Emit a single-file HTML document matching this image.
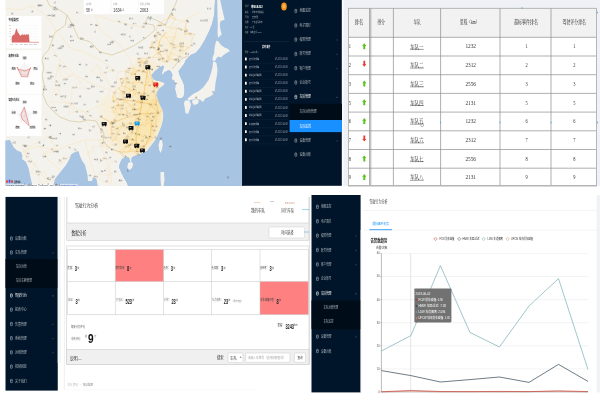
<!DOCTYPE html>
<html lang="zh-CN">
<head>
<meta charset="utf-8">
<title>车队监控</title>
<style>
html,body{margin:0;padding:0;background:#fff}
body{width:600px;height:400px;position:relative;overflow:hidden;font-family:"Liberation Sans","Noto Sans CJK SC",sans-serif}
section{position:absolute;left:0;top:0;width:600px;height:400px}
svg{position:absolute;left:0;top:0;display:block;overflow:hidden}
text{font-family:"Liberation Sans","Noto Sans CJK SC",sans-serif}
text.sf{font-family:"Liberation Serif","Noto Serif CJK SC",serif}
</style>
</head>
<body>
<section id="screen-map">
<svg width="600" height="400" viewBox="0 0 600 400">
<defs><clipPath id="mapclip"><rect x="5.3" y="0" width="237.2" height="185.9"/></clipPath><filter id="b1" x="-20%" y="-20%" width="140%" height="140%"><feGaussianBlur stdDeviation="3"/></filter><filter id="b0" x="-20%" y="-20%" width="140%" height="140%"><feGaussianBlur stdDeviation="0.35"/></filter></defs>
<g clip-path="url(#mapclip)">
<rect x="5.3" y="0" width="237.4" height="186" fill="#f4f2ed"/>
<polygon fill="#a8c4e3" points="215,0 214.2,15 212,24 209,31.5 204.5,40.5 200,48 195.5,53 191,54.7 188.7,57 185.7,60 184,64 181,68 178.5,71 179.5,75 182,80 184,85 184.5,90 184,95 183,97.5 179,98.5 176.5,97 176.5,95 175,89 175.5,85 174.5,81 171.5,79 172.5,75 171,71.5 169,70 165,72 161.5,75.5 162.5,71 164,67 163,65.5 160,67 155,71 151.5,75 153,79 156,80.5 160,81.2 164.5,83 164,85 160,88 157.5,91 156,94 158,100 160,105 162.5,110 163.5,115 163,120 161.5,126 160,130 157,137 154,142 150,147 147,151 143,153 138,155 134,156 131.5,158 131.5,161 131,164.5 130,161 129,157.5 125,157 122,159 120,163 119,167 121,172 124,178 127,183 128,186 243,186 243,0"/>
<polygon fill="#a8c4e3" points="5,140.5 10,140 11.5,143 13.5,147 17,150.5 21,152 22.5,156 22,159 26,162 28.5,168 30,175 32.5,186 5,186"/>
<polygon fill="#a8c4e3" points="53,186 55,179 58,175 62,170 66,165 69.5,159 71,154.5 74,152.5 78.5,151 80,156 82,160.5 85,165 87.5,175 88,181 92,181 93,177 96.5,179 97.8,186"/>
<polygon fill="#f4f2ed" points="217.2,0 220.2,0 221.5,6 222.5,10.5 223.5,15 224.7,19.5 222.5,20.5 220.5,21 219.8,25 220.5,30 221.7,34.5 220,36 218,37.8 217.5,33 217.8,25 217.5,15 217.4,8"/>
<polygon fill="#f4f2ed" points="216.5,40.5 218.5,41.5 221,45 224.5,47.5 227.7,48.7 230,51 226.5,53 223.5,55 221,57.5 218.5,56.5 216.5,58 215,61 212.7,60.5 212.5,57.5 214,54 214.5,49 215,45"/>
<polygon fill="#f4f2ed" points="214.5,61.5 216.5,63 217.5,70 217,75 215.5,83 214.8,90 213.6,94 210,96.5 205.3,98.6 203,102 200,99.5 192,99.5 188.5,100.8 187.5,98.5 193.5,93.8 199,91 203.6,86.9 208.6,80 211,73 212.6,66.8 213,62"/>
<polygon fill="#f4f2ed" points="192,100.5 197,99.5 199,101 197.5,104 194,105 192.5,103"/>
<polygon fill="#f4f2ed" points="184.5,101 187,100 190,101.5 191,105 189.5,110 188,114 185.5,113 184.8,108 184,104"/>
<polygon fill="#f4f2ed" points="160,140 162,140.3 162.8,145 161.8,150 160.5,153 159.2,150 158.5,145"/>
<polygon fill="#f4f2ed" points="128,163 131.5,162 133.2,164 132,168 129.5,170 127.3,167.5"/>
<polygon fill="#f4f2ed" points="160.5,172 164,172 164.5,180 163.5,186 161,186 160.5,178"/>
<ellipse cx="175.5" cy="103" rx="1.3" ry="0.6" fill="#f4f2ed"/><ellipse cx="229.0" cy="47.5" rx="0.9" ry="0.45" fill="#f4f2ed" transform="rotate(-42 229.0 47.5)"/><ellipse cx="230.7" cy="45.9" rx="0.9" ry="0.45" fill="#f4f2ed" transform="rotate(-42 230.7 45.9)"/><ellipse cx="232.4" cy="44.2" rx="0.9" ry="0.45" fill="#f4f2ed" transform="rotate(-42 232.4 44.2)"/><ellipse cx="234.1" cy="42.5" rx="0.9" ry="0.45" fill="#f4f2ed" transform="rotate(-42 234.1 42.5)"/><ellipse cx="235.8" cy="40.9" rx="0.9" ry="0.45" fill="#f4f2ed" transform="rotate(-42 235.8 40.9)"/><ellipse cx="237.5" cy="39.2" rx="0.9" ry="0.45" fill="#f4f2ed" transform="rotate(-42 237.5 39.2)"/><ellipse cx="239.2" cy="37.6" rx="0.9" ry="0.45" fill="#f4f2ed" transform="rotate(-42 239.2 37.6)"/><ellipse cx="240.9" cy="36.0" rx="0.9" ry="0.45" fill="#f4f2ed" transform="rotate(-42 240.9 36.0)"/><circle cx="183" cy="113" r="0.35" fill="#f4f2ed"/><circle cx="180" cy="118" r="0.35" fill="#f4f2ed"/><circle cx="177" cy="123" r="0.35" fill="#f4f2ed"/><circle cx="173" cy="128" r="0.35" fill="#f4f2ed"/><circle cx="169" cy="133" r="0.35" fill="#f4f2ed"/><circle cx="166" cy="137" r="0.35" fill="#f4f2ed"/>
<ellipse cx="150.5" cy="18.5" rx="0.7" ry="2.2" fill="#a8c4e3" transform="rotate(12 150.5 18.5)"/><g filter="url(#b1)"><polygon fill="#fbe6b0" opacity="0.6" points="148,60 160,64 152,72 152,80 164,84 158,94 162,110 163,120 158,132 150,146 138,154 126,155 118,146 114,130 116,110 120,92 128,74 138,62"/><polygon fill="#fbdf9a" opacity="0.45" points="150,90 160,100 163,115 160,128 152,143 140,152 132,146 130,128 136,110 140,95"/><polygon fill="#fbecc4" opacity="0.4" points="162,62 170,68 180,60 188,52 190,42 184,32 174,26 164,30 156,42 152,54"/><polygon fill="#fbecc6" opacity="0.45" points="100,100 118,92 118,130 126,150 122,157 110,150 104,138 100,125"/></g>
<polygon fill="#a8c4e3" points="215,0 214.2,15 212,24 209,31.5 204.5,40.5 200,48 195.5,53 191,54.7 188.7,57 185.7,60 184,64 181,68 178.5,71 179.5,75 182,80 184,85 184.5,90 184,95 183,97.5 179,98.5 176.5,97 176.5,95 175,89 175.5,85 174.5,81 171.5,79 172.5,75 171,71.5 169,70 165,72 161.5,75.5 162.5,71 164,67 163,65.5 160,67 155,71 151.5,75 153,79 156,80.5 160,81.2 164.5,83 164,85 160,88 157.5,91 156,94 158,100 160,105 162.5,110 163.5,115 163,120 161.5,126 160,130 157,137 154,142 150,147 147,151 143,153 138,155 134,156 131.5,158 131.5,161 131,164.5 130,161 129,157.5 125,157 122,159 120,163 119,167 121,172 124,178 127,183 128,186 243,186 243,0"/>
<polygon fill="#f4f2ed" points="217.2,0 220.2,0 221.5,6 222.5,10.5 223.5,15 224.7,19.5 222.5,20.5 220.5,21 219.8,25 220.5,30 221.7,34.5 220,36 218,37.8 217.5,33 217.8,25 217.5,15 217.4,8"/>
<polygon fill="#f4f2ed" points="216.5,40.5 218.5,41.5 221,45 224.5,47.5 227.7,48.7 230,51 226.5,53 223.5,55 221,57.5 218.5,56.5 216.5,58 215,61 212.7,60.5 212.5,57.5 214,54 214.5,49 215,45"/>
<polygon fill="#f4f2ed" points="214.5,61.5 216.5,63 217.5,70 217,75 215.5,83 214.8,90 213.6,94 210,96.5 205.3,98.6 203,102 200,99.5 192,99.5 188.5,100.8 187.5,98.5 193.5,93.8 199,91 203.6,86.9 208.6,80 211,73 212.6,66.8 213,62"/>
<polygon fill="#f4f2ed" points="192,100.5 197,99.5 199,101 197.5,104 194,105 192.5,103"/>
<polygon fill="#f4f2ed" points="184.5,101 187,100 190,101.5 191,105 189.5,110 188,114 185.5,113 184.8,108 184,104"/>
<polygon fill="#f4f2ed" points="160,140 162,140.3 162.8,145 161.8,150 160.5,153 159.2,150 158.5,145"/>
<polygon fill="#f4f2ed" points="128,163 131.5,162 133.2,164 132,168 129.5,170 127.3,167.5"/>
<polygon fill="#f4f2ed" points="160.5,172 164,172 164.5,180 163.5,186 161,186 160.5,178"/>
<path d="M125.6 71.2L127.8 68.4 M125.6 71.2L126.0 78.5 M125.6 71.2L132.0 74.5 M143.5 63.3L137.9 62.3 M143.5 63.3L144.9 61.5 M143.5 63.3L137.6 58.7 M143.5 63.3L144.0 70.4 M143.5 63.3L147.4 58.0 M137.2 92.9L139.5 96.1 M137.2 92.9L142.8 93.6 M137.2 92.9L136.1 90.3 M137.2 92.9L134.9 94.6 M111.2 107.3L116.3 105.4 M111.2 107.3L113.8 112.6 M111.2 107.3L115.6 108.9 M131.1 139.5L124.8 138.4 M131.1 139.5L130.8 132.5 M131.1 139.5L126.1 136.9 M131.1 139.5L131.6 144.0 M131.1 139.5L135.0 140.3 M131.1 139.5L126.7 140.1 M142.2 151.7L142.0 146.9 M142.2 151.7L139.8 147.3 M142.2 151.7L138.5 151.3 M139.5 96.1L142.8 93.6 M139.5 96.1L138.2 100.5 M154.8 85.3L155.7 87.7 M154.8 85.3L152.8 84.7 M154.8 85.3L152.6 82.1 M124.8 138.4L126.1 136.9 M124.8 138.4L126.7 140.1 M117.8 114.7L121.3 114.0 M117.8 114.7L113.6 120.1 M117.8 114.7L113.8 112.6 M117.8 114.7L115.6 108.9 M142.8 93.6L145.1 99.2 M137.9 62.3L144.9 61.5 M137.9 62.3L137.6 58.7 M145.1 99.2L139.6 102.1 M145.1 99.2L148.9 104.3 M125.1 115.1L121.3 114.0 M125.1 115.1L128.1 113.2 M125.1 115.1L127.1 111.4 M132.7 86.3L132.7 90.3 M132.7 86.3L129.2 88.9 M132.7 86.3L132.5 83.1 M151.3 126.6L155.1 126.3 M151.3 126.6L152.6 130.7 M151.3 126.6L155.4 123.7 M151.3 126.6L148.9 122.4 M121.3 114.0L120.4 108.3 M136.6 144.4L131.6 144.0 M136.6 144.4L139.8 147.3 M136.6 144.4L135.0 140.3 M147.8 85.1L152.8 84.7 M147.8 85.1L148.2 81.5 M147.8 85.1L144.8 85.4 M130.8 132.5L137.0 134.7 M130.8 132.5L126.1 136.9 M116.3 105.4L120.7 105.0 M116.3 105.4L118.3 104.0 M116.3 105.4L115.6 108.9 M110.1 123.5L111.3 126.9 M110.1 123.5L113.6 120.1 M110.1 123.5L112.6 122.7 M149.7 113.9L145.9 116.0 M149.7 113.9L147.5 112.2 M149.7 113.9L149.8 118.3 M155.7 87.7L152.8 84.7 M155.7 87.7L152.6 82.1 M145.9 116.0L147.5 112.2 M145.9 116.0L146.5 120.2 M139.6 102.1L141.4 107.1 M139.6 102.1L138.2 100.5 M139.6 102.1L136.2 102.9 M133.8 123.1L129.0 123.5 M133.8 123.1L136.1 118.4 M133.8 123.1L135.9 126.0 M133.8 123.1L138.4 119.4 M111.3 126.9L111.2 133.6 M111.3 126.9L112.6 122.7 M111.3 126.9L116.4 128.3 M111.3 126.9L111.9 130.8 M152.8 84.7L152.6 82.1 M129.0 123.5L122.1 125.9 M129.0 123.5L135.9 126.0 M111.2 133.6L117.1 134.0 M111.2 133.6L116.0 139.5 M111.2 133.6L111.9 130.8 M111.2 133.6L112.6 141.0 M129.3 144.0L127.6 145.3 M129.3 144.0L131.6 144.0 M129.3 144.0L126.7 140.1 M112.4 101.4L114.6 100.7 M112.4 101.4L116.8 99.6 M112.4 101.4L112.9 96.4 M123.2 97.9L122.2 93.0 M123.2 97.9L127.3 102.3 M123.2 97.9L124.0 102.4 M127.6 145.3L129.9 151.6 M127.6 145.3L131.6 144.0 M127.6 145.3L130.9 148.7 M127.6 145.3L122.3 153.1 M127.6 145.3L119.4 151.5 M120.7 105.0L120.4 108.3 M120.7 105.0L118.3 104.0 M120.7 105.0L124.0 102.4 M140.1 82.5L136.7 80.1 M140.1 82.5L144.8 85.4 M140.1 82.5L132.5 83.1 M128.1 113.2L127.1 111.4 M128.1 113.2L125.8 108.4 M136.1 118.4L135.9 126.0 M136.1 118.4L138.4 119.4 M144.9 61.5L137.6 58.7 M144.9 61.5L147.4 58.0 M129.4 96.3L130.1 91.1 M129.4 96.3L124.9 92.0 M129.4 96.3L134.9 94.6 M113.6 120.1L112.6 122.7 M113.5 92.7L116.8 99.6 M113.5 92.7L118.7 88.2 M113.5 92.7L112.9 96.4 M141.5 71.0L136.8 70.8 M141.5 71.0L147.5 73.2 M141.5 71.0L144.0 70.4 M121.7 91.1L122.2 93.0 M121.7 91.1L118.7 88.2 M121.7 91.1L124.9 92.0 M127.8 68.4L132.0 74.5 M127.8 68.4L133.4 68.0 M133.4 104.9L135.3 109.7 M133.4 104.9L132.7 109.9 M133.4 104.9L129.7 105.2 M133.4 104.9L136.2 102.9 M126.7 82.7L126.0 78.5 M126.7 82.7L125.0 86.8 M126.7 82.7L123.4 80.5 M126.7 82.7L132.5 83.1 M136.8 70.8L132.0 74.5 M136.8 70.8L135.3 74.0 M136.8 70.8L133.4 68.0 M137.6 58.7L147.4 58.0 M136.8 154.8L136.7 150.3 M136.8 154.8L134.1 151.1 M136.8 154.8L138.5 151.3 M155.1 126.3L152.6 130.7 M155.1 126.3L155.4 123.7 M155.1 126.3L156.6 119.4 M122.2 93.0L118.7 88.2 M122.2 93.0L124.9 92.0 M117.1 134.0L122.1 125.9 M117.1 134.0L116.0 139.5 M117.1 134.0L116.4 128.3 M117.1 134.0L112.6 141.0 M137.0 134.7L143.6 136.8 M137.0 134.7L138.6 132.8 M137.0 134.7L135.0 140.3 M126.0 78.5L120.0 78.9 M126.0 78.5L123.4 80.5 M154.5 137.4L152.6 130.7 M154.5 137.4L148.0 138.0 M154.5 137.4L151.9 139.5 M120.4 108.3L118.3 104.0 M120.4 108.3L115.6 108.9 M122.1 125.9L116.4 128.3 M120.0 78.9L121.7 85.6 M120.0 78.9L123.4 80.5 M142.0 146.9L139.8 147.3 M142.0 146.9L146.1 144.5 M153.8 104.4L148.9 104.3 M153.8 104.4L150.1 107.3 M153.8 104.4L157.7 100.8 M153.8 104.4L152.6 99.6 M153.8 104.4L161.0 111.3 M143.6 136.8L138.6 132.8 M143.6 136.8L148.0 138.0 M148.9 104.3L150.1 107.3 M148.9 104.3L157.7 100.8 M148.9 104.3L152.6 99.6 M126.1 136.9L126.7 140.1 M129.9 151.6L130.9 148.7 M129.9 151.6L134.1 151.1 M129.9 151.6L122.3 153.1 M129.9 151.6L119.4 151.5 M147.5 73.2L144.0 70.4 M147.5 73.2L147.7 76.7 M116.0 139.5L112.6 141.0 M127.1 111.4L125.8 108.4 M136.7 150.3L139.8 147.3 M136.7 150.3L134.1 151.1 M136.7 150.3L138.5 151.3 M131.6 144.0L135.0 140.3 M121.7 85.6L118.7 88.2 M121.7 85.6L125.0 86.8 M121.7 85.6L123.4 80.5 M127.3 102.3L129.7 105.2 M127.3 102.3L124.0 102.4 M139.8 147.3L146.1 144.5 M139.8 147.3L138.5 151.3 M130.9 148.7L134.1 151.1 M135.3 109.7L141.4 107.1 M135.3 109.7L132.7 109.9 M135.3 109.7L139.9 109.4 M132.0 74.5L135.3 74.0 M132.0 74.5L133.4 68.0 M147.5 112.2L150.1 107.3 M125.8 108.4L129.7 105.2 M113.8 112.6L115.6 108.9 M138.6 132.8L139.1 126.7 M157.7 100.8L152.6 99.6 M157.7 100.8L161.0 111.3 M141.4 107.1L139.9 109.4 M135.9 126.0L139.1 126.7 M135.9 126.0L142.1 124.7 M132.7 109.9L129.7 105.2 M132.7 109.9L139.9 109.4 M146.1 144.5L148.0 138.0 M146.1 144.5L151.9 139.5 M114.6 100.7L116.8 99.6 M114.6 100.7L112.9 96.4 M116.4 128.3L111.9 130.8 M116.8 99.6L118.3 104.0 M136.1 90.3L132.7 90.3 M136.1 90.3L134.9 94.6 M138.2 100.5L136.2 102.9 M152.6 82.1L148.2 81.5 M152.6 82.1L147.7 76.7 M139.1 126.7L142.1 124.7 M132.7 90.3L130.1 91.1 M132.7 90.3L129.2 88.9 M132.7 90.3L134.9 94.6 M136.7 80.1L135.3 74.0 M136.7 80.1L132.5 83.1 M125.0 86.8L124.9 92.0 M125.0 86.8L129.2 88.9 M135.3 74.0L133.4 68.0 M146.5 120.2L148.9 122.4 M146.5 120.2L145.2 126.0 M146.5 120.2L142.1 124.7 M146.5 120.2L149.8 118.3 M130.1 91.1L129.2 88.9 M155.4 123.7L156.6 119.4 M122.3 153.1L119.4 151.5 M161.0 111.3L156.6 119.4 M148.9 122.4L145.2 126.0 M148.9 122.4L149.8 118.3 M156.6 119.4L149.8 118.3 M148.0 138.0L151.9 139.5 M145.2 126.0L142.1 124.7 M138.4 119.4L142.1 124.7 M148.2 81.5L147.7 76.7 M148.2 81.5L144.8 85.4" fill="none" stroke="#f7cd78" stroke-width="0.45" opacity="0.95" stroke-linecap="round"/>
<path d="M169.7 43.3L172.4 44.9 M169.7 43.3L172.9 47.9 M169.7 43.3L174.8 37.1 M169.7 43.3L165.8 37.4 M192.4 38.1L188.6 33.6 M192.4 38.1L195.1 34.3 M192.4 38.1L190.3 45.8 M172.4 44.9L179.4 46.5 M172.4 44.9L172.9 47.9 M172.4 44.9L174.8 37.1 M156.9 40.7L153.6 35.6 M156.9 40.7L158.1 34.1 M156.9 40.7L152.3 44.6 M156.9 40.7L159.7 45.7 M156.9 40.7L151.6 42.6 M178.2 56.4L175.6 60.5 M178.2 56.4L171.1 52.9 M178.2 56.4L183.4 51.4 M152.4 57.3L157.2 53.0 M152.4 57.3L159.4 51.5 M152.4 57.3L160.3 58.1 M179.4 46.5L172.9 47.9 M179.4 46.5L181.2 44.7 M179.4 46.5L183.4 51.4 M173.4 15.3L168.2 17.8 M173.4 15.3L169.4 15.4 M173.4 15.3L175.5 19.4 M157.1 25.5L163.1 24.9 M157.1 25.5L160.0 22.6 M157.1 25.5L156.5 32.7 M169.1 59.2L162.6 61.6 M169.1 59.2L175.6 60.5 M169.1 59.2L165.4 61.9 M169.1 59.2L171.1 52.9 M169.1 59.2L168.0 56.3 M172.9 47.9L171.1 52.9 M170.0 27.6L163.1 24.9 M170.0 27.6L176.6 28.4 M170.0 27.6L175.5 19.4 M163.1 24.9L160.0 22.6 M184.8 34.4L188.6 33.6 M184.8 34.4L195.1 34.3 M184.8 34.4L185.4 27.1 M184.8 34.4L185.1 30.4 M188.6 33.6L195.1 34.3 M188.6 33.6L185.4 27.1 M188.6 33.6L185.1 30.4 M151.5 47.2L154.3 48.0 M151.5 47.2L152.3 44.6 M151.5 47.2L149.0 47.6 M151.5 47.2L151.6 42.6 M185.4 27.1L186.3 21.9 M185.4 27.1L185.1 30.4 M186.3 21.9L185.1 30.4 M186.3 21.9L175.5 19.4 M174.8 37.1L165.8 37.4 M174.8 37.1L176.6 28.4 M157.2 53.0L154.3 48.0 M157.2 53.0L159.4 51.5 M157.2 53.0L160.3 58.1 M154.3 48.0L152.3 44.6 M154.3 48.0L159.7 45.7 M154.3 48.0L149.0 47.6 M153.6 35.6L158.1 34.1 M153.6 35.6L156.5 32.7 M162.6 61.6L160.3 58.1 M162.6 61.6L165.4 61.9 M158.1 34.1L165.8 37.4 M158.1 34.1L156.5 32.7 M189.0 47.9L190.3 45.8 M189.0 47.9L181.2 44.7 M189.0 47.9L183.4 51.4 M185.1 30.4L176.6 28.4 M152.3 44.6L149.0 47.6 M152.3 44.6L151.6 42.6 M159.7 45.7L159.4 51.5 M175.6 60.5L168.0 56.3 M160.0 22.6L168.2 17.8 M190.3 45.8L183.4 51.4 M168.2 17.8L169.4 15.4 M168.2 17.8L175.5 19.4 M159.4 51.5L164.9 50.4 M160.3 58.1L165.4 61.9 M169.4 15.4L175.5 19.4 M165.4 61.9L168.0 56.3 M181.2 44.7L183.4 51.4 M171.1 52.9L164.9 50.4 M171.1 52.9L168.0 56.3 M164.9 50.4L168.0 56.3" fill="none" stroke="#f8d58c" stroke-width="0.45" opacity="0.9" stroke-linecap="round"/>
<path d="M91.6 126.8L85.7 121.0 M91.6 126.8L100.5 136.0 M103.7 144.8L99.8 143.0 M103.7 144.8L113.1 144.8 M103.7 144.8L103.8 137.4 M99.8 143.0L100.5 136.0 M99.8 143.0L103.8 137.4 M50.0 101.9L70.1 103.3 M50.0 101.9L54.4 90.7 M111.1 70.2L101.6 74.4 M111.1 70.2L103.8 72.5 M80.8 82.2L73.3 74.9 M80.8 82.2L71.7 87.9 M80.8 82.2L86.2 88.1 M86.1 111.7L85.7 121.0 M86.1 111.7L105.3 103.3 M86.1 111.7L73.6 112.1 M101.6 74.4L103.8 72.5 M101.6 74.4L91.2 71.4 M101.6 74.4L110.6 86.9 M101.6 74.4L97.3 65.1 M103.8 72.5L110.6 86.9 M103.8 72.5L97.3 65.1 M91.2 71.4L97.3 65.1 M62.7 79.4L73.3 74.9 M62.7 79.4L58.2 65.9 M62.7 79.4L54.4 90.7 M62.7 79.4L70.2 76.0 M110.6 86.9L105.3 103.3 M73.3 74.9L70.2 76.0 M58.2 65.9L70.2 76.0 M69.1 114.3L70.1 103.3 M69.1 114.3L73.6 112.1 M71.7 87.9L72.1 91.9 M71.7 87.9L86.2 88.1 M70.1 103.3L73.6 112.1 M70.1 103.3L72.1 91.9 M100.5 136.0L103.8 137.4 M113.1 144.8L103.8 137.4" fill="none" stroke="#f9e4bd" stroke-width="0.45" opacity="0.9" stroke-linecap="round"/>
<path d="M27.8 161.7L35.5 164.6 M27.8 161.7L25.4 155.0 M35.5 164.6L31.0 172.7 M50.3 138.2L51.1 142.4 M50.3 138.2L52.9 138.1 M50.3 138.2L48.8 136.5 M29.0 146.5L21.9 145.6 M29.0 146.5L37.8 142.4 M29.0 146.5L25.4 155.0 M62.5 158.3L58.0 164.0 M62.5 158.3L70.0 156.4 M62.5 158.3L62.2 163.1 M51.1 142.4L52.9 138.1 M51.1 142.4L55.4 145.3 M50.8 177.5L47.9 179.3 M50.8 177.5L53.6 180.5 M44.3 171.3L36.9 174.2 M44.3 171.3L47.9 179.3 M52.9 138.1L48.8 136.5 M58.0 164.0L62.2 163.1 M36.9 174.2L39.8 180.8 M36.9 174.2L31.0 172.7 M39.8 180.8L43.3 183.9 M21.9 145.6L25.4 155.0 M70.0 156.4L62.2 163.1 M50.3 149.8L43.4 153.9 M50.3 149.8L55.4 145.3 M50.3 149.8L55.7 151.2 M43.4 153.9L55.7 151.2 M47.9 179.3L53.6 180.5 M47.9 179.3L43.3 183.9 M55.4 145.3L55.7 151.2 M37.8 142.4L48.8 136.5" fill="none" stroke="#f9e4bd" stroke-width="0.45" opacity="0.9" stroke-linecap="round"/>
<path d="M102.8 158.1L113.7 161.4 M102.8 158.1L99.0 163.1 M102.8 158.1L100.9 159.1 M106.9 168.5L113.7 161.4 M106.9 168.5L108.6 175.3 M106.9 168.5L112.3 173.2 M92.7 146.8L86.6 154.5 M92.7 146.8L101.0 145.8 M92.7 146.8L94.0 151.0 M104.8 181.7L94.7 176.8 M104.8 181.7L108.0 180.5 M104.8 181.7L109.4 183.2 M108.6 175.3L99.3 174.1 M108.6 175.3L112.3 173.2 M108.6 175.3L108.0 180.5 M99.3 174.1L94.7 176.8 M86.6 154.5L94.0 151.0 M101.0 145.8L108.9 147.2 M101.0 145.8L108.1 149.4 M99.0 163.1L100.9 159.1 M108.9 147.2L108.1 149.4 M108.0 180.5L109.4 183.2" fill="none" stroke="#f9e4bd" stroke-width="0.45" opacity="0.9" stroke-linecap="round"/>
<polyline fill="none" stroke="#f3b248" stroke-width="0.55" opacity="0.9" points="147.8,67.6 146,80 143,98 140,114 136,134 137,152"/>
<polyline fill="none" stroke="#f3b248" stroke-width="0.55" opacity="0.9" points="147.8,67.6 153,82 156,100 158,113 152,121 150,137 142.4,150.7"/>
<polyline fill="none" stroke="#f3b248" stroke-width="0.55" opacity="0.9" points="118,99 134,101 150,104 158,113"/>
<polyline fill="none" stroke="#f3b248" stroke-width="0.55" opacity="0.9" points="101,117 112,123 125,118 140,114 158,113"/>
<polyline fill="none" stroke="#f3b248" stroke-width="0.55" opacity="0.9" points="163,59 158,50 160,40 166,32"/>
<text transform="translate(126.19999999999999,71.7) scale(0.75,1)" font-size="1.6" fill="#666">保定</text><text transform="translate(144.1,63.8) scale(0.75,1)" font-size="1.6" fill="#666">石家庄</text><text transform="translate(137.79999999999998,93.4) scale(0.75,1)" font-size="1.6" fill="#666">太原</text><text transform="translate(111.8,107.8) scale(0.75,1)" font-size="1.6" fill="#666">天津</text><text transform="translate(131.7,140.0) scale(0.75,1)" font-size="1.6" fill="#666">唐山</text><text transform="translate(142.79999999999998,152.2) scale(0.75,1)" font-size="1.6" fill="#666">沧州</text><text transform="translate(140.1,96.6) scale(0.75,1)" font-size="1.6" fill="#666">德州</text><text transform="translate(155.4,85.8) scale(0.75,1)" font-size="1.6" fill="#666">邯郸</text><text transform="translate(125.39999999999999,138.9) scale(0.75,1)" font-size="1.6" fill="#666">安阳</text><text transform="translate(118.39999999999999,115.2) scale(0.75,1)" font-size="1.6" fill="#666">洛阳</text><text transform="translate(143.4,94.1) scale(0.75,1)" font-size="1.6" fill="#666">开封</text><text transform="translate(138.5,62.8) scale(0.75,1)" font-size="1.6" fill="#666">徐州</text><text transform="translate(145.7,99.7) scale(0.75,1)" font-size="1.6" fill="#666">蚌埠</text><text transform="translate(125.69999999999999,115.6) scale(0.75,1)" font-size="1.6" fill="#666">合肥</text><text transform="translate(133.29999999999998,86.8) scale(0.75,1)" font-size="1.6" fill="#666">南京</text><text transform="translate(151.9,127.1) scale(0.75,1)" font-size="1.6" fill="#666">苏州</text><text transform="translate(121.89999999999999,114.5) scale(0.75,1)" font-size="1.6" fill="#666">无锡</text><text transform="translate(137.2,144.9) scale(0.75,1)" font-size="1.6" fill="#666">宁波</text><text transform="translate(148.4,85.6) scale(0.75,1)" font-size="1.6" fill="#666">温州</text><text transform="translate(131.4,133.0) scale(0.75,1)" font-size="1.6" fill="#666">金华</text><text transform="translate(116.89999999999999,105.9) scale(0.75,1)" font-size="1.6" fill="#666">南昌</text><text transform="translate(110.69999999999999,124.0) scale(0.75,1)" font-size="1.6" fill="#666">九江</text><text transform="translate(150.29999999999998,114.4) scale(0.75,1)" font-size="1.6" fill="#666">赣州</text><text transform="translate(156.29999999999998,88.2) scale(0.75,1)" font-size="1.6" fill="#666">衡阳</text><text transform="translate(146.5,116.5) scale(0.75,1)" font-size="1.6" fill="#666">株洲</text><text transform="translate(140.2,102.6) scale(0.75,1)" font-size="1.6" fill="#666">岳阳</text><text transform="translate(134.4,123.6) scale(0.75,1)" font-size="1.6" fill="#666">宜昌</text><text transform="translate(111.89999999999999,127.4) scale(0.75,1)" font-size="1.6" fill="#666">襄阳</text><text transform="translate(153.4,85.2) scale(0.75,1)" font-size="1.6" fill="#666">十堰</text><text transform="translate(129.6,124.0) scale(0.75,1)" font-size="1.6" fill="#666">南阳</text><text transform="translate(111.8,134.1) scale(0.75,1)" font-size="1.6" fill="#666">信阳</text><text transform="translate(129.9,144.5) scale(0.75,1)" font-size="1.6" fill="#666">阜阳</text><text transform="translate(113.0,101.9) scale(0.75,1)" font-size="1.6" fill="#666">淮安</text><text transform="translate(123.8,98.4) scale(0.75,1)" font-size="1.6" fill="#666">盐城</text><text transform="translate(128.2,145.8) scale(0.75,1)" font-size="1.6" fill="#666">南通</text><text transform="translate(121.3,105.5) scale(0.75,1)" font-size="1.6" fill="#666">临沂</text><text transform="translate(140.7,83.0) scale(0.75,1)" font-size="1.6" fill="#666">潍坊</text><text transform="translate(128.7,113.7) scale(0.75,1)" font-size="1.6" fill="#666">青岛</text><text transform="translate(136.7,118.9) scale(0.75,1)" font-size="1.6" fill="#666">烟台</text><text transform="translate(145.5,62.0) scale(0.75,1)" font-size="1.6" fill="#666">大连</text><text transform="translate(130.0,96.8) scale(0.75,1)" font-size="1.6" fill="#666">营口</text><text transform="translate(114.19999999999999,120.6) scale(0.75,1)" font-size="1.6" fill="#666">锦州</text><text transform="translate(114.1,93.2) scale(0.75,1)" font-size="1.6" fill="#666">承德</text><text transform="translate(142.1,71.5) scale(0.75,1)" font-size="1.6" fill="#666">张家口</text><text transform="translate(122.3,91.6) scale(0.75,1)" font-size="1.6" fill="#666">大同</text><text transform="translate(128.4,68.9) scale(0.75,1)" font-size="1.6" fill="#666">榆林</text><text transform="translate(134.0,105.4) scale(0.75,1)" font-size="1.6" fill="#666">延安</text><text transform="translate(127.3,83.2) scale(0.75,1)" font-size="1.6" fill="#666">宝鸡</text><text transform="translate(137.4,71.3) scale(0.75,1)" font-size="1.6" fill="#666">汉中</text><text transform="translate(138.2,59.2) scale(0.75,1)" font-size="1.6" fill="#666">达州</text><text transform="translate(137.4,155.3) scale(0.75,1)" font-size="1.6" fill="#666">南充</text><text transform="translate(155.7,126.8) scale(0.75,1)" font-size="1.6" fill="#666">遵义</text><text transform="translate(122.8,93.5) scale(0.75,1)" font-size="1.6" fill="#666">贵阳</text><text transform="translate(117.69999999999999,134.5) scale(0.75,1)" font-size="1.6" fill="#666">柳州</text><text transform="translate(137.6,135.2) scale(0.75,1)" font-size="1.6" fill="#666">桂林</text><text transform="translate(126.6,79.0) scale(0.75,1)" font-size="1.6" fill="#666">南宁</text><text transform="translate(155.1,137.9) scale(0.75,1)" font-size="1.6" fill="#666">湛江</text><text transform="translate(153.2,131.2) scale(0.75,1)" font-size="1.6" fill="#666">茂名</text><text transform="translate(121.0,108.8) scale(0.75,1)" font-size="1.6" fill="#666">深圳</text><text transform="translate(122.69999999999999,126.4) scale(0.75,1)" font-size="1.6" fill="#666">汕头</text><text transform="translate(120.6,79.4) scale(0.75,1)" font-size="1.6" fill="#666">厦门</text><text transform="translate(142.6,147.4) scale(0.75,1)" font-size="1.6" fill="#666">泉州</text><text transform="translate(154.4,104.9) scale(0.75,1)" font-size="1.6" fill="#666">莆田</text><text transform="translate(144.2,137.3) scale(0.75,1)" font-size="1.6" fill="#666">三明</text><text transform="translate(113.19999999999999,123.2) scale(0.75,1)" font-size="1.6" fill="#666">龙岩</text><text transform="translate(149.5,104.8) scale(0.75,1)" font-size="1.6" fill="#666">韶关</text><text transform="translate(126.69999999999999,137.4) scale(0.75,1)" font-size="1.6" fill="#666">梅州</text><text transform="translate(170.29999999999998,43.8) scale(0.75,1)" font-size="1.6" fill="#777">吉林</text><text transform="translate(173.0,45.4) scale(0.75,1)" font-size="1.6" fill="#777">四平</text><text transform="translate(178.79999999999998,56.9) scale(0.75,1)" font-size="1.6" fill="#777">牡丹江</text><text transform="translate(180.0,47.0) scale(0.75,1)" font-size="1.6" fill="#777">佳木斯</text><text transform="translate(157.7,26.0) scale(0.75,1)" font-size="1.6" fill="#777">齐齐哈尔</text><text transform="translate(173.5,48.4) scale(0.75,1)" font-size="1.6" fill="#777">大庆</text><text transform="translate(163.7,25.4) scale(0.75,1)" font-size="1.6" fill="#777">白城</text><text transform="translate(189.2,34.1) scale(0.75,1)" font-size="1.6" fill="#777">通辽</text><text transform="translate(152.1,47.7) scale(0.75,1)" font-size="1.6" fill="#777">赤峰</text><text transform="translate(186.9,22.4) scale(0.75,1)" font-size="1.6" fill="#777">鞍山</text><text transform="translate(157.79999999999998,53.5) scale(0.75,1)" font-size="1.6" fill="#777">丹东</text><text transform="translate(154.2,36.1) scale(0.75,1)" font-size="1.6" fill="#777">抚顺</text><text transform="translate(158.7,34.6) scale(0.75,1)" font-size="1.6" fill="#777">本溪</text><text transform="translate(185.7,30.9) scale(0.75,1)" font-size="1.6" fill="#777">延吉</text><text transform="translate(160.29999999999998,46.2) scale(0.75,1)" font-size="1.6" fill="#777">通化</text><text transform="translate(176.2,61.0) scale(0.75,1)" font-size="1.6" fill="#777">西宁</text><text transform="translate(190.9,46.3) scale(0.75,1)" font-size="1.6" fill="#777">兰州</text><text transform="translate(160.0,52.0) scale(0.75,1)" font-size="1.6" fill="#777">格尔木</text><text transform="translate(177.2,28.9) scale(0.75,1)" font-size="1.6" fill="#777">玉树</text><text transform="translate(157.1,33.2) scale(0.75,1)" font-size="1.6" fill="#777">昌都</text><text transform="translate(166.0,62.4) scale(0.75,1)" font-size="1.6" fill="#777">林芝</text><text transform="translate(149.6,48.1) scale(0.75,1)" font-size="1.6" fill="#777">那曲</text><text transform="translate(152.2,43.1) scale(0.75,1)" font-size="1.6" fill="#777">日喀则</text><text transform="translate(165.5,50.9) scale(0.75,1)" font-size="1.6" fill="#777">酒泉</text><text transform="translate(92.19999999999999,127.3) scale(0.75,1)" font-size="1.6" fill="#777">张掖</text><text transform="translate(100.39999999999999,143.5) scale(0.75,1)" font-size="1.6" fill="#777">天水</text><text transform="translate(111.69999999999999,70.7) scale(0.75,1)" font-size="1.6" fill="#777">绵阳</text><text transform="translate(86.69999999999999,112.2) scale(0.75,1)" font-size="1.6" fill="#777">雅安</text><text transform="translate(104.39999999999999,73.0) scale(0.75,1)" font-size="1.6" fill="#777">西昌</text><text transform="translate(63.300000000000004,79.9) scale(0.75,1)" font-size="1.6" fill="#777">那格浦尔</text><text transform="translate(111.19999999999999,87.4) scale(0.75,1)" font-size="1.6" fill="#777">博帕尔</text><text transform="translate(58.800000000000004,66.4) scale(0.75,1)" font-size="1.6" fill="#777">浦那</text><text transform="translate(72.3,88.4) scale(0.75,1)" font-size="1.6" fill="#777">班加罗尔</text><text transform="translate(70.69999999999999,103.8) scale(0.75,1)" font-size="1.6" fill="#777">维沙卡帕特南</text><text transform="translate(101.1,136.5) scale(0.75,1)" font-size="1.6" fill="#777">勒克瑙</text><text transform="translate(113.69999999999999,145.3) scale(0.75,1)" font-size="1.6" fill="#777">巴特那</text><text transform="translate(104.39999999999999,137.9) scale(0.75,1)" font-size="1.6" fill="#777">艾哈迈达巴德</text><text transform="translate(86.8,88.6) scale(0.75,1)" font-size="1.6" fill="#777">印多尔</text><text transform="translate(28.400000000000002,162.2) scale(0.75,1)" font-size="1.6" fill="#777">苏拉特</text><text transform="translate(50.9,138.7) scale(0.75,1)" font-size="1.6" fill="#777">兰契</text><text transform="translate(63.1,158.8) scale(0.75,1)" font-size="1.6" fill="#777">赖布尔</text><text transform="translate(51.4,178.0) scale(0.75,1)" font-size="1.6" fill="#777">科钦</text><text transform="translate(53.5,138.6) scale(0.75,1)" font-size="1.6" fill="#777">曼德勒</text><text transform="translate(37.5,174.7) scale(0.75,1)" font-size="1.6" fill="#777">清迈</text><text transform="translate(22.5,146.1) scale(0.75,1)" font-size="1.6" fill="#777">琅勃拉邦</text><text transform="translate(50.9,150.3) scale(0.75,1)" font-size="1.6" fill="#777">岘港</text><text transform="translate(48.5,179.8) scale(0.75,1)" font-size="1.6" fill="#777">顺化</text><text transform="translate(56.0,145.8) scale(0.75,1)" font-size="1.6" fill="#777">荣市</text><text transform="translate(38.4,142.9) scale(0.75,1)" font-size="1.6" fill="#777">海防</text><text transform="translate(56.300000000000004,151.7) scale(0.75,1)" font-size="1.6" fill="#777">景洪</text><text transform="translate(49.4,137.0) scale(0.75,1)" font-size="1.6" fill="#777">腊戍</text><text transform="translate(103.39999999999999,158.6) scale(0.75,1)" font-size="1.6" fill="#777">彭世洛</text><text transform="translate(114.3,161.9) scale(0.75,1)" font-size="1.6" fill="#777">孔敬</text><text transform="translate(105.39999999999999,182.2) scale(0.75,1)" font-size="1.6" fill="#777">乌隆</text>
<polyline fill="none" stroke="#d5c79a" stroke-width="0.7" points="47,0 50,6 58,9 67,15 65.3,25 60,29 55.3,31.8 53,38 50.3,45.2 48.6,50 43.5,55.3 42,60 44,68 42,75 44,85 43,95 47,104 52,110 60,117 70,121 80,122 88,120 96,121 100,128 104,133 103,140 108,147 114,150 120,152 124,157"/>
<polyline fill="none" stroke="#d5c79a" stroke-width="0.7" points="67,15 72,24 78.7,38.5 90.5,41.9 100,52 112,55 125,50 135,45 145,38.5 155,30 153.6,25 145,23.4 148,17 156,20 165.4,25 170,15 173.7,8.4 177,0"/>
<polyline fill="none" stroke="#d5c79a" stroke-width="0.7" points="188.5,56 183,58 178,62 172,69"/>
<polyline fill="none" stroke="#f9e5c0" stroke-width="0.6" points="5,8 20,10 32,6 45,14 56,30 70,48 84,52 100,60 118,72 135,70 148,68"/>
<polyline fill="none" stroke="#f9e5c0" stroke-width="0.6" points="56,30 50,45 60,60 75,75 95,85 115,92 128,96 143,98 157,94"/>
<polyline fill="none" stroke="#f9e5c0" stroke-width="0.6" points="60,60 55,80 62,100 80,110 104,124 125,128 137,124 160,118"/>
<polyline fill="none" stroke="#f9e5c0" stroke-width="0.6" points="104,124 110,140 125.5,142 136.7,146 142.5,150.5"/>
<polyline fill="none" stroke="#f9e5c0" stroke-width="0.6" points="148,68 150,50 160,40 170,30 185,20 200,12"/>
<polyline fill="none" stroke="#f9e5c0" stroke-width="0.6" points="160,40 175,50 188,56"/>
<polyline fill="none" stroke="#f9e5c0" stroke-width="0.6" points="137.5,78.5 130,60 120,45 100,30 95,15 110,20 130,25 150,28"/>
<polyline fill="none" stroke="#f9e5c0" stroke-width="0.6" points="22,153 25,150 40,146 55,150 70,145 85,140 100,140"/>
<polyline fill="none" stroke="#f9e5c0" stroke-width="0.6" points="25,150 35,165 45,178 50,186"/>
<polyline fill="none" stroke="#f9e5c0" stroke-width="0.6" points="40,146 48,160 60,170"/>
<polyline fill="none" stroke="#f9e5c0" stroke-width="0.6" points="100,140 104,155 110,170 112,186"/>
<polyline fill="none" stroke="#f9e5c0" stroke-width="0.6" points="85,140 90,160 95,175"/>
<polyline fill="none" stroke="#f9e5c0" stroke-width="0.6" points="143,98 150,110 155,125 150,140 142.5,150.5"/>
<polyline fill="none" stroke="#f9e5c0" stroke-width="0.6" points="128.5,96 131,110 131,128.5 125.5,142"/>
<polyline fill="none" stroke="#f9e5c0" stroke-width="0.6" points="118,72 115,92 118,110 115,128 120,145"/>
<polyline fill="none" stroke="#f9e5c0" stroke-width="0.6" points="148,68 152,85 157,94"/>
<text transform="translate(40,5.5) scale(0.75,1)" font-size="1.7" fill="#555" text-anchor="middle">阿斯塔纳</text><text transform="translate(55,10) scale(0.75,1)" font-size="1.7" fill="#555" text-anchor="middle">乌兰巴托</text><text transform="translate(72,26) scale(0.75,1)" font-size="1.7" fill="#555" text-anchor="middle">乌鲁木齐</text><text transform="translate(53,46) scale(0.75,1)" font-size="1.7" fill="#555" text-anchor="middle">喀什</text><text transform="translate(60,49) scale(0.75,1)" font-size="1.7" fill="#555" text-anchor="middle">伊斯兰堡</text><text transform="translate(45,90) scale(0.75,1)" font-size="1.7" fill="#555" text-anchor="middle">新德里</text><text transform="translate(66,107) scale(0.75,1)" font-size="1.7" fill="#555" text-anchor="middle">加德满都</text><text transform="translate(83,118) scale(0.75,1)" font-size="1.7" fill="#555" text-anchor="middle">拉萨</text><text transform="translate(113,42) scale(0.75,1)" font-size="1.7" fill="#555" text-anchor="middle">银川</text><text transform="translate(123,35) scale(0.75,1)" font-size="1.7" fill="#555" text-anchor="middle">呼和浩特</text><text transform="translate(146,54) scale(0.75,1)" font-size="1.7" fill="#555" text-anchor="middle">哈尔滨</text><text transform="translate(158,50) scale(0.75,1)" font-size="1.7" fill="#555" text-anchor="middle">长春</text><text transform="translate(163,59) scale(0.75,1)" font-size="1.7" fill="#555" text-anchor="middle">沈阳</text><text transform="translate(204,21) scale(0.75,1)" font-size="1.7" fill="#555" text-anchor="middle">哈巴罗夫斯克</text><text transform="translate(209,9) scale(0.75,1)" font-size="1.7" fill="#555" text-anchor="middle">共青城</text><text transform="translate(187,53.5) scale(0.75,1)" font-size="1.7" fill="#555" text-anchor="middle">海参崴</text><text transform="translate(176,84) scale(0.75,1)" font-size="1.7" fill="#555" text-anchor="middle">首尔</text><text transform="translate(213,93) scale(0.75,1)" font-size="1.7" fill="#555" text-anchor="middle">东京</text><text transform="translate(196,98) scale(0.75,1)" font-size="1.7" fill="#555" text-anchor="middle">大阪</text><text transform="translate(140,66) scale(0.75,1)" font-size="1.7" fill="#555" text-anchor="middle">北京</text><text transform="translate(153,92) scale(0.75,1)" font-size="1.7" fill="#555" text-anchor="middle">济南</text><text transform="translate(134,101) scale(0.75,1)" font-size="1.7" fill="#555" text-anchor="middle">郑州</text><text transform="translate(118,99) scale(0.75,1)" font-size="1.7" fill="#555" text-anchor="middle">西安</text><text transform="translate(101,117) scale(0.75,1)" font-size="1.7" fill="#555" text-anchor="middle">成都</text><text transform="translate(112,123) scale(0.75,1)" font-size="1.7" fill="#555" text-anchor="middle">重庆</text><text transform="translate(140,114) scale(0.75,1)" font-size="1.7" fill="#555" text-anchor="middle">武汉</text><text transform="translate(158,113) scale(0.75,1)" font-size="1.7" fill="#555" text-anchor="middle">上海</text><text transform="translate(152,121) scale(0.75,1)" font-size="1.7" fill="#555" text-anchor="middle">杭州</text><text transform="translate(136,134) scale(0.75,1)" font-size="1.7" fill="#555" text-anchor="middle">长沙</text><text transform="translate(150,137) scale(0.75,1)" font-size="1.7" fill="#555" text-anchor="middle">福州</text><text transform="translate(161,139) scale(0.75,1)" font-size="1.7" fill="#555" text-anchor="middle">台北</text><text transform="translate(137,152) scale(0.75,1)" font-size="1.7" fill="#555" text-anchor="middle">广州</text><text transform="translate(128,171) scale(0.75,1)" font-size="1.7" fill="#555" text-anchor="middle">海口</text><text transform="translate(103,143) scale(0.75,1)" font-size="1.7" fill="#555" text-anchor="middle">昆明</text><text transform="translate(110,158) scale(0.75,1)" font-size="1.7" fill="#555" text-anchor="middle">河内</text><text transform="translate(96,160) scale(0.75,1)" font-size="1.7" fill="#555" text-anchor="middle">内比都</text><text transform="translate(90,176) scale(0.75,1)" font-size="1.7" fill="#555" text-anchor="middle">仰光</text><text transform="translate(102,172) scale(0.75,1)" font-size="1.7" fill="#555" text-anchor="middle">万象</text><text transform="translate(70,148) scale(0.75,1)" font-size="1.7" fill="#555" text-anchor="middle">达卡</text><text transform="translate(56,152) scale(0.75,1)" font-size="1.7" fill="#555" text-anchor="middle">加尔各答</text><text transform="translate(27,157) scale(0.75,1)" font-size="1.7" fill="#555" text-anchor="middle">孟买</text><text transform="translate(38,172) scale(0.75,1)" font-size="1.7" fill="#555" text-anchor="middle">海得拉巴</text><text transform="translate(48,179) scale(0.75,1)" font-size="1.7" fill="#555" text-anchor="middle">金奈</text><text transform="translate(14,143) scale(0.75,1)" font-size="1.7" fill="#555" text-anchor="middle">卡拉奇</text><text transform="translate(170,147) scale(0.75,1)" font-size="1.7" fill="#555" text-anchor="middle">冲绳</text><text transform="translate(228,178) scale(0.75,1)" font-size="1.7" fill="#555" text-anchor="middle">帕劳</text>
<text transform="translate(100.6,133.4) scale(0.75,1)" font-size="1.7" fill="#5a5a5a">库车</text><text transform="translate(88.8,131.3) scale(0.75,1)" font-size="1.7" fill="#5a5a5a">和田</text><text transform="translate(60.2,46.9) scale(0.75,1)" font-size="1.7" fill="#5a5a5a">阿克苏</text><text transform="translate(146.7,96.0) scale(0.75,1)" font-size="1.7" fill="#5a5a5a">哈密</text><text transform="translate(48.7,137.7) scale(0.75,1)" font-size="1.7" fill="#5a5a5a">敦煌</text><text transform="translate(100.3,129.9) scale(0.75,1)" font-size="1.7" fill="#5a5a5a">若羌</text><text transform="translate(179.8,29.6) scale(0.75,1)" font-size="1.7" fill="#5a5a5a">且末</text><text transform="translate(49.9,76.7) scale(0.75,1)" font-size="1.7" fill="#5a5a5a">狮泉河</text><text transform="translate(90.1,25.2) scale(0.75,1)" font-size="1.7" fill="#5a5a5a">改则</text><text transform="translate(84.9,64.8) scale(0.75,1)" font-size="1.7" fill="#5a5a5a">安多</text><text transform="translate(47.6,79.4) scale(0.75,1)" font-size="1.7" fill="#5a5a5a">德令哈</text><text transform="translate(70.3,41.3) scale(0.75,1)" font-size="1.7" fill="#5a5a5a">额济纳</text><text transform="translate(179.0,44.0) scale(0.75,1)" font-size="1.7" fill="#5a5a5a">二连浩特</text><text transform="translate(174.3,60.1) scale(0.75,1)" font-size="1.7" fill="#5a5a5a">锡林浩特</text><text transform="translate(80.0,39.4) scale(0.75,1)" font-size="1.7" fill="#5a5a5a">海拉尔</text><text transform="translate(105.2,152.7) scale(0.75,1)" font-size="1.7" fill="#5a5a5a">漠河</text><text transform="translate(177.7,62.4) scale(0.75,1)" font-size="1.7" fill="#5a5a5a">黑河</text><text transform="translate(48.8,125.9) scale(0.75,1)" font-size="1.7" fill="#5a5a5a">伊春</text><text transform="translate(27.3,154.0) scale(0.75,1)" font-size="1.7" fill="#5a5a5a">鹤岗</text><text transform="translate(146.7,65.7) scale(0.75,1)" font-size="1.7" fill="#5a5a5a">双鸭山</text><text transform="translate(24.0,146.7) scale(0.75,1)" font-size="1.7" fill="#5a5a5a">赤塔</text><text transform="translate(55.1,85.5) scale(0.75,1)" font-size="1.7" fill="#5a5a5a">乌兰乌德</text><text transform="translate(59.9,96.7) scale(0.75,1)" font-size="1.7" fill="#5a5a5a">伊尔库茨克</text><text transform="translate(93.9,177.0) scale(0.75,1)" font-size="1.7" fill="#5a5a5a">科布多</text><text transform="translate(47.6,15.7) scale(0.75,1)" font-size="1.7" fill="#5a5a5a">达兰扎德嘎德</text><text transform="translate(67.6,27.3) scale(0.75,1)" font-size="1.7" fill="#5a5a5a">乔巴山</text><text transform="translate(138.3,47.8) scale(0.75,1)" font-size="1.7" fill="#5a5a5a">比什凯克</text><text transform="translate(46.5,72.6) scale(0.75,1)" font-size="1.7" fill="#5a5a5a">阿拉木图</text><text transform="translate(109.5,43.0) scale(0.75,1)" font-size="1.7" fill="#5a5a5a">杜尚别</text><text transform="translate(77.9,128.8) scale(0.75,1)" font-size="1.7" fill="#5a5a5a">喀布尔</text><text transform="translate(132.8,24.2) scale(0.75,1)" font-size="1.7" fill="#5a5a5a">白沙瓦</text><text transform="translate(129.1,18.7) scale(0.75,1)" font-size="1.7" fill="#5a5a5a">拉合尔</text><text transform="translate(107.3,45.3) scale(0.75,1)" font-size="1.7" fill="#5a5a5a">木尔坦</text><text transform="translate(123.0,134.0) scale(0.75,1)" font-size="1.7" fill="#5a5a5a">奎达</text><text transform="translate(118.7,181.0) scale(0.75,1)" font-size="1.7" fill="#5a5a5a">斋浦尔</text><text transform="translate(132.4,109.6) scale(0.75,1)" font-size="1.7" fill="#5a5a5a">坎普尔</text><text transform="translate(118.3,100.4) scale(0.75,1)" font-size="1.7" fill="#5a5a5a">瓦拉纳西</text><text transform="translate(70.0,25.0) scale(0.75,1)" font-size="1.7" fill="#5a5a5a">阿格拉</text><text transform="translate(133.2,114.9) scale(0.75,1)" font-size="1.7" fill="#5a5a5a">昌迪加尔</text><text transform="translate(130.1,40.6) scale(0.75,1)" font-size="1.7" fill="#5a5a5a">西姆拉</text><text transform="translate(48.9,37.0) scale(0.75,1)" font-size="1.7" fill="#5a5a5a">台拉登</text><text transform="translate(44.7,59.1) scale(0.75,1)" font-size="1.7" fill="#5a5a5a">博卡拉</text><text transform="translate(152.3,116.5) scale(0.75,1)" font-size="1.7" fill="#5a5a5a">廷布</text><text transform="translate(50.8,108.0) scale(0.75,1)" font-size="1.7" fill="#5a5a5a">西里古里</text><text transform="translate(96.4,77.9) scale(0.75,1)" font-size="1.7" fill="#5a5a5a">高哈蒂</text><text transform="translate(156.3,66.8) scale(0.75,1)" font-size="1.7" fill="#5a5a5a">因帕尔</text><text transform="translate(143.3,24.3) scale(0.75,1)" font-size="1.7" fill="#5a5a5a">吉大港</text><text transform="translate(140.9,141.3) scale(0.75,1)" font-size="1.7" fill="#5a5a5a">实兑</text><text transform="translate(99.5,91.9) scale(0.75,1)" font-size="1.7" fill="#5a5a5a">密支那</text><text transform="translate(58.4,134.2) scale(0.75,1)" font-size="1.7" fill="#5a5a5a">八莫</text><text transform="translate(52.3,176.5) scale(0.75,1)" font-size="1.7" fill="#5a5a5a">东枝</text><text transform="translate(42.5,157.2) scale(0.75,1)" font-size="1.7" fill="#5a5a5a">毛淡棉</text><text transform="translate(105.5,68.0) scale(0.75,1)" font-size="1.7" fill="#5a5a5a">清莱</text><text transform="translate(99.9,80.7) scale(0.75,1)" font-size="1.7" fill="#5a5a5a">南邦</text><text transform="translate(104.9,61.4) scale(0.75,1)" font-size="1.7" fill="#5a5a5a">会晒</text><text transform="translate(79.6,117.0) scale(0.75,1)" font-size="1.7" fill="#5a5a5a">奠边府</text><text transform="translate(43.6,129.2) scale(0.75,1)" font-size="1.7" fill="#5a5a5a">老街</text><text transform="translate(193.1,44.3) scale(0.75,1)" font-size="1.7" fill="#5a5a5a">谅山</text><text transform="translate(125.8,128.0) scale(0.75,1)" font-size="1.7" fill="#5a5a5a">凭祥</text><text transform="translate(93.5,31.5) scale(0.75,1)" font-size="1.7" fill="#5a5a5a">百色</text><text transform="translate(53.5,3.0) scale(0.75,1)" font-size="1.7" fill="#5a5a5a">河池</text><text transform="translate(120.9,82.8) scale(0.75,1)" font-size="1.7" fill="#5a5a5a">兴义</text><text transform="translate(62.5,66.9) scale(0.75,1)" font-size="1.7" fill="#5a5a5a">六盘水</text><text transform="translate(133.6,75.4) scale(0.75,1)" font-size="1.7" fill="#5a5a5a">毕节</text><text transform="translate(157.9,60.0) scale(0.75,1)" font-size="1.7" fill="#5a5a5a">昭通</text><text transform="translate(91.0,86.7) scale(0.75,1)" font-size="1.7" fill="#5a5a5a">攀枝花</text><text transform="translate(143.0,37.7) scale(0.75,1)" font-size="1.7" fill="#5a5a5a">丽江</text><text transform="translate(83.0,119.6) scale(0.75,1)" font-size="1.7" fill="#5a5a5a">大理</text><text transform="translate(136.5,54.0) scale(0.75,1)" font-size="1.7" fill="#5a5a5a">保山</text><text transform="translate(114.0,171.6) scale(0.75,1)" font-size="1.7" fill="#5a5a5a">临沧</text><text transform="translate(99.3,53.3) scale(0.75,1)" font-size="1.7" fill="#5a5a5a">普洱</text><text transform="translate(145.0,138.3) scale(0.75,1)" font-size="1.7" fill="#5a5a5a">蒙自</text><text transform="translate(185.9,21.1) scale(0.75,1)" font-size="1.7" fill="#5a5a5a">文山</text><text transform="translate(128.6,37.2) scale(0.75,1)" font-size="1.7" fill="#5a5a5a">个旧</text><text transform="translate(157.4,48.5) scale(0.75,1)" font-size="1.7" fill="#5a5a5a">楚雄</text><text transform="translate(140.2,96.2) scale(0.75,1)" font-size="1.7" fill="#5a5a5a">曲靖</text><text transform="translate(170.8,15.4) scale(0.75,1)" font-size="1.7" fill="#5a5a5a">宜宾</text><text transform="translate(27.3,138.2) scale(0.75,1)" font-size="1.7" fill="#5a5a5a">泸州</text><text transform="translate(54.2,55.9) scale(0.75,1)" font-size="1.7" fill="#5a5a5a">内江</text><text transform="translate(89.2,115.7) scale(0.75,1)" font-size="1.7" fill="#5a5a5a">自贡</text><text transform="translate(73.7,150.4) scale(0.75,1)" font-size="1.7" fill="#5a5a5a">乐山</text><text transform="translate(54.5,110.9) scale(0.75,1)" font-size="1.7" fill="#5a5a5a">广元</text><text transform="translate(83.3,104.9) scale(0.75,1)" font-size="1.7" fill="#5a5a5a">巴中</text><text transform="translate(41.7,146.0) scale(0.75,1)" font-size="1.7" fill="#5a5a5a">安康</text><text transform="translate(58.7,160.5) scale(0.75,1)" font-size="1.7" fill="#5a5a5a">商洛</text><text transform="translate(116.1,128.8) scale(0.75,1)" font-size="1.7" fill="#5a5a5a">运城</text><text transform="translate(153.9,37.2) scale(0.75,1)" font-size="1.7" fill="#5a5a5a">临汾</text><text transform="translate(53.8,7.5) scale(0.75,1)" font-size="1.7" fill="#5a5a5a">长治</text><text transform="translate(78.8,65.2) scale(0.75,1)" font-size="1.7" fill="#5a5a5a">晋城</text><text transform="translate(103.0,124.2) scale(0.75,1)" font-size="1.7" fill="#5a5a5a">新乡</text><text transform="translate(96.2,101.9) scale(0.75,1)" font-size="1.7" fill="#5a5a5a">焦作</text><text transform="translate(44.9,119.5) scale(0.75,1)" font-size="1.7" fill="#5a5a5a">濮阳</text><text transform="translate(103.8,171.2) scale(0.75,1)" font-size="1.7" fill="#5a5a5a">菏泽</text><text transform="translate(43.9,86.5) scale(0.75,1)" font-size="1.7" fill="#5a5a5a">济宁</text><text transform="translate(130.4,28.3) scale(0.75,1)" font-size="1.7" fill="#5a5a5a">枣庄</text><text transform="translate(30.7,11.8) scale(0.75,1)" font-size="1.7" fill="#5a5a5a">日照</text><text transform="translate(147.6,17.7) scale(0.75,1)" font-size="1.7" fill="#5a5a5a">连云港</text><text transform="translate(111.8,123.8) scale(0.75,1)" font-size="1.7" fill="#5a5a5a">宿迁</text><text transform="translate(138.5,120.4) scale(0.75,1)" font-size="1.7" fill="#5a5a5a">扬州</text><text transform="translate(133.0,90.4) scale(0.75,1)" font-size="1.7" fill="#5a5a5a">泰州</text><text transform="translate(122.1,124.2) scale(0.75,1)" font-size="1.7" fill="#5a5a5a">镇江</text><text transform="translate(140.6,99.6) scale(0.75,1)" font-size="1.7" fill="#5a5a5a">常州</text><text transform="translate(148.3,58.3) scale(0.75,1)" font-size="1.7" fill="#5a5a5a">湖州</text><text transform="translate(164.2,49.7) scale(0.75,1)" font-size="1.7" fill="#5a5a5a">嘉兴</text><text transform="translate(76.0,12.5) scale(0.75,1)" font-size="1.7" fill="#5a5a5a">绍兴</text><text transform="translate(70.1,36.5) scale(0.75,1)" font-size="1.7" fill="#5a5a5a">台州</text><text transform="translate(63.8,84.3) scale(0.75,1)" font-size="1.7" fill="#5a5a5a">丽水</text><text transform="translate(85.5,76.8) scale(0.75,1)" font-size="1.7" fill="#5a5a5a">衢州</text><text transform="translate(142.0,27.0) scale(0.75,1)" font-size="1.7" fill="#5a5a5a">上饶</text><text transform="translate(89.7,47.4) scale(0.75,1)" font-size="1.7" fill="#5a5a5a">景德镇</text><text transform="translate(75.5,112.3) scale(0.75,1)" font-size="1.7" fill="#5a5a5a">鹰潭</text><text transform="translate(72.5,134.7) scale(0.75,1)" font-size="1.7" fill="#5a5a5a">抚州</text><text transform="translate(125.3,147.4) scale(0.75,1)" font-size="1.7" fill="#5a5a5a">吉安</text><text transform="translate(95.1,25.8) scale(0.75,1)" font-size="1.7" fill="#5a5a5a">宜春</text><text transform="translate(124.8,156.9) scale(0.75,1)" font-size="1.7" fill="#5a5a5a">萍乡</text><text transform="translate(150.6,70.2) scale(0.75,1)" font-size="1.7" fill="#5a5a5a">新余</text><text transform="translate(184.2,32.3) scale(0.75,1)" font-size="1.7" fill="#5a5a5a">郴州</text><text transform="translate(37.9,5.6) scale(0.75,1)" font-size="1.7" fill="#5a5a5a">永州</text><text transform="translate(11.1,13.8) scale(0.75,1)" font-size="1.7" fill="#5a5a5a">邵阳</text><text transform="translate(54.9,95.4) scale(0.75,1)" font-size="1.7" fill="#5a5a5a">怀化</text><text transform="translate(161.6,30.8) scale(0.75,1)" font-size="1.7" fill="#5a5a5a">吉首</text><text transform="translate(172.1,10.4) scale(0.75,1)" font-size="1.7" fill="#5a5a5a">张家界</text><text transform="translate(78.7,96.7) scale(0.75,1)" font-size="1.7" fill="#5a5a5a">常德</text><text transform="translate(118.1,22.4) scale(0.75,1)" font-size="1.7" fill="#5a5a5a">益阳</text><text transform="translate(113.9,82.7) scale(0.75,1)" font-size="1.7" fill="#5a5a5a">娄底</text><text transform="translate(178.9,50.7) scale(0.75,1)" font-size="1.7" fill="#5a5a5a">荆州</text><text transform="translate(55.7,81.5) scale(0.75,1)" font-size="1.7" fill="#5a5a5a">荆门</text><text transform="translate(124.2,24.9) scale(0.75,1)" font-size="1.7" fill="#5a5a5a">孝感</text><text transform="translate(100.0,160.5) scale(0.75,1)" font-size="1.7" fill="#5a5a5a">黄冈</text><text transform="translate(110.9,150.4) scale(0.75,1)" font-size="1.7" fill="#5a5a5a">鄂州</text>
<g filter="url(#b0)"><g transform="translate(147.8,67.6)"><rect x="-2.5" y="-2.3" width="5" height="3.7" rx="0.6" fill="#111"/><rect x="-1.9" y="1" width="1.1" height="1.1" fill="#111"/><rect x="0.8" y="1" width="1.1" height="1.1" fill="#111"/><rect x="-1.4" y="-1.4" width="1.6" height="1" fill="#fff" opacity="0.55"/></g><g transform="translate(137.7,78.4)"><rect x="-2.5" y="-2.3" width="5" height="3.7" rx="0.6" fill="#111"/><rect x="-1.9" y="1" width="1.1" height="1.1" fill="#111"/><rect x="0.8" y="1" width="1.1" height="1.1" fill="#111"/><rect x="-1.4" y="-1.4" width="1.6" height="1" fill="#fff" opacity="0.55"/></g><g transform="translate(128.5,96)"><rect x="-2.5" y="-2.3" width="5" height="3.7" rx="0.6" fill="#111"/><rect x="-1.9" y="1" width="1.1" height="1.1" fill="#111"/><rect x="0.8" y="1" width="1.1" height="1.1" fill="#111"/><rect x="-1.4" y="-1.4" width="1.6" height="1" fill="#fff" opacity="0.55"/></g><g transform="translate(143,98)"><rect x="-2.5" y="-2.3" width="5" height="3.7" rx="0.6" fill="#111"/><rect x="-1.9" y="1" width="1.1" height="1.1" fill="#111"/><rect x="0.8" y="1" width="1.1" height="1.1" fill="#111"/><rect x="-1.4" y="-1.4" width="1.6" height="1" fill="#fff" opacity="0.55"/></g><g transform="translate(104.2,124.2)"><rect x="-2.5" y="-2.3" width="5" height="3.7" rx="0.6" fill="#111"/><rect x="-1.9" y="1" width="1.1" height="1.1" fill="#111"/><rect x="0.8" y="1" width="1.1" height="1.1" fill="#111"/><rect x="-1.4" y="-1.4" width="1.6" height="1" fill="#fff" opacity="0.55"/></g><g transform="translate(131,128.4)"><rect x="-2.5" y="-2.3" width="5" height="3.7" rx="0.6" fill="#111"/><rect x="-1.9" y="1" width="1.1" height="1.1" fill="#111"/><rect x="0.8" y="1" width="1.1" height="1.1" fill="#111"/><rect x="-1.4" y="-1.4" width="1.6" height="1" fill="#fff" opacity="0.55"/></g><g transform="translate(125.5,141.8)"><rect x="-2.5" y="-2.3" width="5" height="3.7" rx="0.6" fill="#111"/><rect x="-1.9" y="1" width="1.1" height="1.1" fill="#111"/><rect x="0.8" y="1" width="1.1" height="1.1" fill="#111"/><rect x="-1.4" y="-1.4" width="1.6" height="1" fill="#fff" opacity="0.55"/></g><g transform="translate(136.7,146)"><rect x="-2.5" y="-2.3" width="5" height="3.7" rx="0.6" fill="#111"/><rect x="-1.9" y="1" width="1.1" height="1.1" fill="#111"/><rect x="0.8" y="1" width="1.1" height="1.1" fill="#111"/><rect x="-1.4" y="-1.4" width="1.6" height="1" fill="#fff" opacity="0.55"/></g><g transform="translate(142.4,150.7)"><rect x="-2.5" y="-2.3" width="5" height="3.7" rx="0.6" fill="#111"/><rect x="-1.9" y="1" width="1.1" height="1.1" fill="#111"/><rect x="0.8" y="1" width="1.1" height="1.1" fill="#111"/><rect x="-1.4" y="-1.4" width="1.6" height="1" fill="#fff" opacity="0.55"/></g><g transform="translate(155.8,84.8)"><rect x="-2.5" y="-2.3" width="5" height="3.7" rx="0.6" fill="#e0231c"/><rect x="-1.9" y="1" width="1.1" height="1.1" fill="#e0231c"/><rect x="0.8" y="1" width="1.1" height="1.1" fill="#e0231c"/><rect x="-1.4" y="-1.4" width="1.6" height="1" fill="#fff" opacity="0.55"/></g><g transform="translate(137.2,123.7)"><rect x="-2.5" y="-2.3" width="5" height="3.7" rx="0.6" fill="#1f9bec"/><rect x="-1.9" y="1" width="1.1" height="1.1" fill="#1f9bec"/><rect x="0.8" y="1" width="1.1" height="1.1" fill="#1f9bec"/><rect x="-1.4" y="-1.4" width="1.6" height="1" fill="#fff" opacity="0.55"/></g></g>
<g><rect x="6.5" y="16" width="35" height="32.4" fill="#fff" opacity="0.92"/><rect x="6.5" y="50.2" width="35" height="44.3" fill="#fff" opacity="0.92"/><rect x="6.5" y="95" width="35" height="41" fill="#fff" opacity="0.92"/><text x="8.4" y="20.9" font-size="3.1" fill="#222" font-weight="bold" textLength="10.4" lengthAdjust="spacingAndGlyphs">今日告警趋势</text><line x1="11.7" y1="25.5" x2="39" y2="25.5" stroke="#eee" stroke-width="0.25"/><text x="11" y="26.0" font-size="1.3" fill="#999" text-anchor="end">100</text><line x1="11.7" y1="28.3" x2="39" y2="28.3" stroke="#eee" stroke-width="0.25"/><text x="11" y="28.8" font-size="1.3" fill="#999" text-anchor="end">80</text><line x1="11.7" y1="31.1" x2="39" y2="31.1" stroke="#eee" stroke-width="0.25"/><text x="11" y="31.6" font-size="1.3" fill="#999" text-anchor="end">60</text><line x1="11.7" y1="33.9" x2="39" y2="33.9" stroke="#eee" stroke-width="0.25"/><text x="11" y="34.4" font-size="1.3" fill="#999" text-anchor="end">40</text><line x1="11.7" y1="36.7" x2="39" y2="36.7" stroke="#eee" stroke-width="0.25"/><text x="11" y="37.2" font-size="1.3" fill="#999" text-anchor="end">20</text><line x1="11.7" y1="39.5" x2="39" y2="39.5" stroke="#eee" stroke-width="0.25"/><text x="11" y="40.0" font-size="1.3" fill="#999" text-anchor="end">0</text><polygon fill="#d65a57" opacity="0.9" points="11.7,42.4 11.7,38.5 12.5,36 13.5,34.8 14.3,35.5 15.2,33 16.4,28.8 17.3,31.5 18.3,33.2 19.3,34.8 20.5,36.2 21.5,35 22.7,34.4 23.7,35.2 24.7,34.6 25.7,35.6 26.7,34.2 27.7,35 28.6,34.6 29.3,42.2 39,42.2 39,42.4"/><polyline fill="none" stroke="#c23531" stroke-width="0.3" points="11.7,38.5 12.5,36 13.5,34.8 14.3,35.5 15.2,33 16.4,28.8 17.3,31.5 18.3,33.2 19.3,34.8 20.5,36.2 21.5,35 22.7,34.4 23.7,35.2 24.7,34.6 25.7,35.6 26.7,34.2 27.7,35 28.6,34.6 29.3,42.2 39,42.2"/><text x="11.7" y="45.4" font-size="1.4" fill="#888" text-anchor="middle">0:00</text><text x="16.45" y="45.4" font-size="1.4" fill="#888" text-anchor="middle">4:00</text><text x="21.2" y="45.4" font-size="1.4" fill="#888" text-anchor="middle">8:00</text><text x="25.95" y="45.4" font-size="1.4" fill="#888" text-anchor="middle">12:00</text><text x="30.7" y="45.4" font-size="1.4" fill="#888" text-anchor="middle">16:00</text><text x="35.45" y="45.4" font-size="1.4" fill="#888" text-anchor="middle">20:00</text><text x="8.4" y="57.4" font-size="3.1" fill="#222" font-weight="bold" textLength="10.4" lengthAdjust="spacingAndGlyphs">故障率对比</text><text x="8.4" y="101.4" font-size="3.1" fill="#222" font-weight="bold" textLength="10.8" lengthAdjust="spacingAndGlyphs">驾驶行为对比</text><polygon fill="#fdfdfd" stroke="#e6e6e6" stroke-width="0.2" points="24.5,62.22 31.35,67.94 28.73,77.2 20.27,77.2 17.65,67.94"/><polygon fill="#f6f6f6" stroke="#e6e6e6" stroke-width="0.2" points="24.5,64.29 29.64,68.58 27.67,75.52 21.33,75.52 19.36,68.58"/><polygon fill="#fdfdfd" stroke="#e6e6e6" stroke-width="0.2" points="24.5,66.36 27.92,69.22 26.62,73.85 22.38,73.85 21.08,69.22"/><polygon fill="#f6f6f6" stroke="#e6e6e6" stroke-width="0.2" points="24.5,68.43 26.21,69.86 25.56,72.17 23.44,72.17 22.79,69.86"/><line x1="24.5" y1="70.5" x2="24.50" y2="62.22" stroke="#dcdcdc" stroke-width="0.2"/><line x1="24.5" y1="70.5" x2="31.35" y2="67.94" stroke="#dcdcdc" stroke-width="0.2"/><line x1="24.5" y1="70.5" x2="28.73" y2="77.20" stroke="#dcdcdc" stroke-width="0.2"/><line x1="24.5" y1="70.5" x2="20.27" y2="77.20" stroke="#dcdcdc" stroke-width="0.2"/><line x1="24.5" y1="70.5" x2="17.65" y2="67.94" stroke="#dcdcdc" stroke-width="0.2"/><polygon fill="none" stroke="#e08a86" stroke-width="0.3" stroke-dasharray="0.6 0.4" points="20,71.5 24.5,69 28.5,71.5 27.5,75 22,75"/><polygon fill="rgba(194,53,49,0.10)" stroke="#d24a46" stroke-width="0.45" points="17,67 18.5,70 20,69.5 24.5,71 28.5,69.5 29.5,70 30.5,67.5 29.5,70 27.5,77 21.5,76.5 18.5,70"/><rect x="22.599999999999998" y="56.4" width="4.2" height="2.8" fill="#c4c4c4"/><text x="24.7" y="58.5" font-size="1.9" fill="#222" text-anchor="middle" textLength="3" lengthAdjust="spacingAndGlyphs">温度</text><rect x="33.199999999999996" y="67.3" width="4.6000000000000005" height="2.8" fill="#c4c4c4"/><text x="35.5" y="69.4" font-size="1.9" fill="#222" text-anchor="middle" textLength="3.4" lengthAdjust="spacingAndGlyphs">电压</text><rect x="29.900000000000002" y="82.0" width="4.6000000000000005" height="2.8" fill="#c4c4c4"/><text x="32.2" y="84.10000000000001" font-size="1.9" fill="#222" text-anchor="middle" textLength="3.4" lengthAdjust="spacingAndGlyphs">胎压</text><rect x="15.200000000000001" y="82.0" width="4.6000000000000005" height="2.8" fill="#c4c4c4"/><text x="17.5" y="84.10000000000001" font-size="1.9" fill="#222" text-anchor="middle" textLength="3.4" lengthAdjust="spacingAndGlyphs">油耗</text><rect x="11.4" y="67.3" width="4.6000000000000005" height="2.8" fill="#c4c4c4"/><text x="13.7" y="69.4" font-size="1.9" fill="#222" text-anchor="middle" textLength="3.4" lengthAdjust="spacingAndGlyphs">转速</text><polygon fill="#fdfdfd" stroke="#e6e6e6" stroke-width="0.2" points="24.5,107.26 31.73,113.3 28.97,123.07 20.03,123.07 17.27,113.3"/><polygon fill="#f6f6f6" stroke="#e6e6e6" stroke-width="0.2" points="24.5,109.45 29.92,113.97 27.85,121.3 21.15,121.3 19.08,113.97"/><polygon fill="#fdfdfd" stroke="#e6e6e6" stroke-width="0.2" points="24.5,111.63 28.11,114.65 26.73,119.54 22.27,119.54 20.89,114.65"/><polygon fill="#f6f6f6" stroke="#e6e6e6" stroke-width="0.2" points="24.5,113.81 26.31,115.32 25.62,117.77 23.38,117.77 22.69,115.32"/><line x1="24.5" y1="116" x2="24.50" y2="107.26" stroke="#dcdcdc" stroke-width="0.2"/><line x1="24.5" y1="116" x2="31.73" y2="113.30" stroke="#dcdcdc" stroke-width="0.2"/><line x1="24.5" y1="116" x2="28.97" y2="123.07" stroke="#dcdcdc" stroke-width="0.2"/><line x1="24.5" y1="116" x2="20.03" y2="123.07" stroke="#dcdcdc" stroke-width="0.2"/><line x1="24.5" y1="116" x2="17.27" y2="113.30" stroke="#dcdcdc" stroke-width="0.2"/><polygon fill="rgba(194,53,49,0.10)" stroke="#d24a46" stroke-width="0.45" points="24.3,107 26.5,115.5 29.2,125.7 22,119 20.9,114.4"/><rect x="22.599999999999998" y="100.6" width="4.2" height="2.8" fill="#c4c4c4"/><text x="24.7" y="102.7" font-size="1.9" fill="#222" text-anchor="middle" textLength="3" lengthAdjust="spacingAndGlyphs">超速</text><rect x="32.699999999999996" y="111.3" width="4.6000000000000005" height="2.8" fill="#c4c4c4"/><text x="35" y="113.4" font-size="1.9" fill="#222" text-anchor="middle" textLength="3.4" lengthAdjust="spacingAndGlyphs">急刹</text><rect x="29.6" y="125.89999999999999" width="6.0" height="2.8" fill="#c4c4c4"/><text x="32.6" y="128.0" font-size="1.9" fill="#222" text-anchor="middle" textLength="4.8" lengthAdjust="spacingAndGlyphs">疲劳驾驶</text><rect x="15.200000000000001" y="125.89999999999999" width="4.6000000000000005" height="2.8" fill="#c4c4c4"/><text x="17.5" y="128.0" font-size="1.9" fill="#222" text-anchor="middle" textLength="3.4" lengthAdjust="spacingAndGlyphs">急转</text><rect x="11.4" y="111.3" width="4.6000000000000005" height="2.8" fill="#c4c4c4"/><text x="13.7" y="113.4" font-size="1.9" fill="#222" text-anchor="middle" textLength="3.4" lengthAdjust="spacingAndGlyphs">怠速</text></g>
<rect x="83.7" y="0" width="80.4" height="14.2" fill="#fff" opacity="0.9"/><line x1="111" y1="0" x2="111" y2="14.2" stroke="#ececec" stroke-width="0.4"/><line x1="138.6" y1="0" x2="138.6" y2="14.2" stroke="#ececec" stroke-width="0.4"/><text x="86.3" y="4.9" font-size="1.9" fill="#999" textLength="5" lengthAdjust="spacingAndGlyphs">在线车辆</text><text x="86.3" y="11.7" font-size="4.9" fill="#3a3a3a" textLength="3.5" lengthAdjust="spacingAndGlyphs">58</text><text x="91" y="11.4" font-size="1.9" fill="#777" textLength="1.5" lengthAdjust="spacingAndGlyphs">辆</text><text x="113.3" y="4.9" font-size="1.9" fill="#999" textLength="4" lengthAdjust="spacingAndGlyphs">总车辆</text><text x="113.3" y="11.7" font-size="4.9" fill="#3a3a3a" textLength="8.4" lengthAdjust="spacingAndGlyphs">1634</text><text x="122.4" y="11.4" font-size="1.9" fill="#777" textLength="1.5" lengthAdjust="spacingAndGlyphs">辆</text><text x="140" y="4.9" font-size="1.9" fill="#999" textLength="10" lengthAdjust="spacingAndGlyphs">累计行驶里程</text><text x="140" y="11.7" font-size="4.9" fill="#3a3a3a" textLength="8.2" lengthAdjust="spacingAndGlyphs">2063</text>
<g><rect x="5.5" y="183.9" width="72" height="1.8" fill="#fff" opacity="0.55"/><rect x="6" y="180.3" width="2" height="2.6" rx="0.8" fill="#e8453c"/><rect x="8.6" y="179.6" width="1.8" height="3.3" rx="0.8" fill="#4a5be8"/><rect x="11" y="180.3" width="2" height="2.6" rx="0.8" fill="#e8453c"/><text x="14" y="183.2" font-size="2.8" fill="#222" font-weight="bold" textLength="6.4" lengthAdjust="spacingAndGlyphs">百度地图</text><text x="6" y="185.5" font-size="1.9" fill="#333" textLength="54" lengthAdjust="spacingAndGlyphs">© 2019 Baidu - GS(2018)5572号 - 甲测资字1100930 - 京ICP证030173号 - Data © 长地万方</text><text x="60.5" y="185.5" font-size="1.9" fill="#3a5fd0" textLength="15.5" lengthAdjust="spacingAndGlyphs">OpenStreetMap &amp; HERE</text></g>
</g>
<rect x="242.3" y="0" width="99.5" height="185.8" fill="#001529"/><rect x="242.3" y="0" width="1" height="185.8" fill="#000a14"/><text x="245" y="7" font-size="1.9" fill="#a9b1ba" textLength="3.6" lengthAdjust="spacingAndGlyphs">车牌号</text><text x="251" y="7.6" font-size="3.9" fill="#fff" font-weight="bold" textLength="11.6" lengthAdjust="spacingAndGlyphs">粤B6A302</text><text x="245" y="12.9" font-size="2.5" fill="#a9b1ba" textLength="5" lengthAdjust="spacingAndGlyphs">车队：</text><text x="252" y="12.9" font-size="2.5" fill="#a9b1ba" textLength="12" lengthAdjust="spacingAndGlyphs">顺丰华南运输队</text><text x="245" y="17.95" font-size="2.5" fill="#a9b1ba" textLength="5" lengthAdjust="spacingAndGlyphs">司机：</text><text x="252" y="17.95" font-size="2.5" fill="#a9b1ba" textLength="6" lengthAdjust="spacingAndGlyphs">王志强</text><text x="245" y="23.0" font-size="2.5" fill="#a9b1ba" textLength="5" lengthAdjust="spacingAndGlyphs">位置：</text><text x="252" y="23.0" font-size="2.5" fill="#a9b1ba" textLength="10.5" lengthAdjust="spacingAndGlyphs">广东省深圳市</text><text x="245" y="28.049999999999997" font-size="2.5" fill="#a9b1ba" textLength="4.2" lengthAdjust="spacingAndGlyphs">速度：</text><text x="250.2" y="28.049999999999997" font-size="2.5" fill="#a9b1ba" textLength="4" lengthAdjust="spacingAndGlyphs">56公里</text><text x="245" y="33.1" font-size="2.5" fill="#a9b1ba" textLength="4.2" lengthAdjust="spacingAndGlyphs">设备：</text><text x="250.2" y="33.1" font-size="2.5" fill="#a9b1ba" textLength="11.5" lengthAdjust="spacingAndGlyphs">车载主机A8679</text><ellipse cx="284" cy="6.6" rx="2.8" ry="4" fill="#f7941d"/><ellipse cx="284" cy="6.2" rx="1.3" ry="2" fill="#fbb55a"/><line x1="244" y1="41.5" x2="289" y2="41.5" stroke="#1f3348" stroke-width="0.45"/><text x="262" y="48.1" font-size="2.9" fill="#fff" font-weight="bold" textLength="8.4" lengthAdjust="spacingAndGlyphs">实时事件</text><text x="245" y="53.1" font-size="2.2" fill="#a9b1ba" textLength="14" lengthAdjust="spacingAndGlyphs">累计：12条事件 ↓</text><rect x="245" y="57.50" width="1.7" height="2.9" rx="0.3" fill="#fff"/><text x="249" y="59.9" font-size="2.4" fill="#a9b1ba" textLength="10" lengthAdjust="spacingAndGlyphs">疲劳驾驶预警</text><text x="275" y="60.05" font-size="3.1" fill="#a9b1ba" textLength="12.6" lengthAdjust="spacingAndGlyphs">07-31 15:01:08</text><line x1="244.5" y1="63.10" x2="288" y2="63.10" stroke="#172b40" stroke-width="0.4"/><rect x="245" y="65.58" width="1.7" height="2.9" rx="0.3" fill="#fff"/><text x="249" y="67.98" font-size="2.4" fill="#a9b1ba" textLength="10" lengthAdjust="spacingAndGlyphs">疲劳驾驶预警</text><text x="275" y="68.13" font-size="3.1" fill="#a9b1ba" textLength="12.6" lengthAdjust="spacingAndGlyphs">07-31 15:01:08</text><line x1="244.5" y1="71.18" x2="288" y2="71.18" stroke="#172b40" stroke-width="0.4"/><rect x="245" y="73.66" width="1.7" height="2.9" rx="0.3" fill="#fff"/><text x="249" y="76.06" font-size="2.4" fill="#a9b1ba" textLength="12.6" lengthAdjust="spacingAndGlyphs">前车碰撞预警提醒</text><text x="275" y="76.21" font-size="3.1" fill="#a9b1ba" textLength="12.6" lengthAdjust="spacingAndGlyphs">07-31 15:01:08</text><line x1="244.5" y1="79.26" x2="288" y2="79.26" stroke="#172b40" stroke-width="0.4"/><rect x="245" y="81.74" width="1.7" height="2.9" rx="0.3" fill="#fff"/><text x="249" y="84.14000000000001" font-size="2.4" fill="#a9b1ba" textLength="10" lengthAdjust="spacingAndGlyphs">疲劳驾驶预警</text><text x="275" y="84.29" font-size="3.1" fill="#a9b1ba" textLength="12.6" lengthAdjust="spacingAndGlyphs">07-31 15:01:08</text><line x1="244.5" y1="87.34" x2="288" y2="87.34" stroke="#172b40" stroke-width="0.4"/><rect x="245" y="89.82" width="1.7" height="2.9" rx="0.3" fill="#fff"/><text x="249" y="92.22" font-size="2.4" fill="#a9b1ba" textLength="12.6" lengthAdjust="spacingAndGlyphs">前车碰撞预警提醒</text><text x="275" y="92.36999999999999" font-size="3.1" fill="#a9b1ba" textLength="12.6" lengthAdjust="spacingAndGlyphs">07-31 15:01:08</text><line x1="244.5" y1="95.42" x2="288" y2="95.42" stroke="#172b40" stroke-width="0.4"/><rect x="245" y="97.90" width="1.7" height="2.9" rx="0.3" fill="#fff"/><text x="249" y="100.30000000000001" font-size="2.4" fill="#a9b1ba" textLength="12.6" lengthAdjust="spacingAndGlyphs">前车碰撞预警提醒</text><text x="275" y="100.45" font-size="3.1" fill="#a9b1ba" textLength="12.6" lengthAdjust="spacingAndGlyphs">07-31 15:01:08</text><line x1="244.5" y1="103.50" x2="288" y2="103.50" stroke="#172b40" stroke-width="0.4"/><rect x="245" y="105.98" width="1.7" height="2.9" rx="0.3" fill="#fff"/><text x="249" y="108.38000000000001" font-size="2.4" fill="#a9b1ba" textLength="12.6" lengthAdjust="spacingAndGlyphs">前车碰撞预警提醒</text><text x="275" y="108.53" font-size="3.1" fill="#a9b1ba" textLength="12.6" lengthAdjust="spacingAndGlyphs">07-31 15:01:08</text><line x1="244.5" y1="111.58" x2="288" y2="111.58" stroke="#172b40" stroke-width="0.4"/><rect x="245" y="114.06" width="1.7" height="2.9" rx="0.3" fill="#fff"/><text x="249" y="116.46000000000001" font-size="2.4" fill="#a9b1ba" textLength="12.6" lengthAdjust="spacingAndGlyphs">前车碰撞预警提醒</text><text x="275" y="116.61" font-size="3.1" fill="#a9b1ba" textLength="12.6" lengthAdjust="spacingAndGlyphs">07-31 15:01:08</text><line x1="244.5" y1="119.66" x2="288" y2="119.66" stroke="#172b40" stroke-width="0.4"/><rect x="245" y="122.14" width="1.7" height="2.9" rx="0.3" fill="#fff"/><text x="249" y="124.54" font-size="2.4" fill="#a9b1ba" textLength="10" lengthAdjust="spacingAndGlyphs">车道偏离预警</text><text x="275" y="124.69" font-size="3.1" fill="#a9b1ba" textLength="12.6" lengthAdjust="spacingAndGlyphs">07-31 15:01:08</text><line x1="244.5" y1="127.74" x2="288" y2="127.74" stroke="#172b40" stroke-width="0.4"/><rect x="245" y="130.22" width="1.7" height="2.9" rx="0.3" fill="#fff"/><text x="249" y="132.62" font-size="2.4" fill="#a9b1ba" textLength="10" lengthAdjust="spacingAndGlyphs">疲劳驾驶预警</text><text x="275" y="132.77" font-size="3.1" fill="#a9b1ba" textLength="12.6" lengthAdjust="spacingAndGlyphs">07-31 15:01:08</text><line x1="244.5" y1="135.82" x2="288" y2="135.82" stroke="#172b40" stroke-width="0.4"/><rect x="245" y="138.30" width="1.7" height="2.9" rx="0.3" fill="#fff"/><text x="249" y="140.70000000000002" font-size="2.4" fill="#a9b1ba" textLength="10" lengthAdjust="spacingAndGlyphs">疲劳驾驶预警</text><text x="275" y="140.85000000000002" font-size="3.1" fill="#a9b1ba" textLength="12.6" lengthAdjust="spacingAndGlyphs">07-31 15:01:08</text><line x1="244.5" y1="143.90" x2="288" y2="143.90" stroke="#172b40" stroke-width="0.4"/>
<rect x="289.6" y="103.8" width="52.4" height="16.2" fill="#000c17"/><rect x="289.6" y="120" width="52.4" height="12.1" fill="#1890ff"/><rect x="294.90000000000003" y="9.3" width="1.8" height="3.4" rx="0.4" fill="none" stroke="#aeb6be" stroke-width="0.55"/><line x1="294.90000000000003" y1="10.6" x2="296.7" y2="10.6" stroke="#aeb6be" stroke-width="0.4"/><text x="299.5" y="12.45" font-size="4.0" fill="#aeb6be" textLength="11.5" lengthAdjust="spacingAndGlyphs">地图监控</text><rect x="294.90000000000003" y="23.8" width="1.8" height="3.4" rx="0.4" fill="none" stroke="#aeb6be" stroke-width="0.55"/><line x1="294.90000000000003" y1="25.1" x2="296.7" y2="25.1" stroke="#aeb6be" stroke-width="0.4"/><text x="299.5" y="26.95" font-size="4.0" fill="#aeb6be" textLength="11.5" lengthAdjust="spacingAndGlyphs">电子围栏</text><rect x="294.90000000000003" y="37.9" width="1.8" height="3.4" rx="0.4" fill="none" stroke="#aeb6be" stroke-width="0.55"/><line x1="294.90000000000003" y1="39.2" x2="296.7" y2="39.2" stroke="#aeb6be" stroke-width="0.4"/><text x="299.5" y="41.050000000000004" font-size="4.0" fill="#aeb6be" textLength="11.5" lengthAdjust="spacingAndGlyphs">权限管理</text><path d="M336.2 39.7 l0.8 0.7 l0.8 -0.7" fill="none" stroke="#aeb6be" stroke-width="0.35" opacity="0.7"/><rect x="294.90000000000003" y="52.3" width="1.8" height="3.4" rx="0.4" fill="none" stroke="#aeb6be" stroke-width="0.55"/><line x1="294.90000000000003" y1="53.6" x2="296.7" y2="53.6" stroke="#aeb6be" stroke-width="0.4"/><text x="299.5" y="55.45" font-size="4.0" fill="#aeb6be" textLength="11.5" lengthAdjust="spacingAndGlyphs">账号管理</text><path d="M336.2 54.1 l0.8 0.7 l0.8 -0.7" fill="none" stroke="#aeb6be" stroke-width="0.35" opacity="0.7"/><rect x="294.90000000000003" y="66.5" width="1.8" height="3.4" rx="0.4" fill="none" stroke="#aeb6be" stroke-width="0.55"/><line x1="294.90000000000003" y1="67.8" x2="296.7" y2="67.8" stroke="#aeb6be" stroke-width="0.4"/><text x="299.5" y="69.65" font-size="4.0" fill="#aeb6be" textLength="11.5" lengthAdjust="spacingAndGlyphs">客户管理</text><path d="M336.2 68.3 l0.8 0.7 l0.8 -0.7" fill="none" stroke="#aeb6be" stroke-width="0.35" opacity="0.7"/><rect x="294.90000000000003" y="80.8" width="1.8" height="3.4" rx="0.4" fill="none" stroke="#aeb6be" stroke-width="0.55"/><line x1="294.90000000000003" y1="82.1" x2="296.7" y2="82.1" stroke="#aeb6be" stroke-width="0.4"/><text x="299.5" y="83.95" font-size="4.0" fill="#aeb6be" textLength="11.5" lengthAdjust="spacingAndGlyphs">企业账号</text><rect x="294.90000000000003" y="95.3" width="1.8" height="3.4" rx="0.4" fill="none" stroke="#fff" stroke-width="0.55"/><line x1="294.90000000000003" y1="96.6" x2="296.7" y2="96.6" stroke="#fff" stroke-width="0.4"/><text x="299.5" y="98.45" font-size="4.0" fill="#fff" textLength="11.5" lengthAdjust="spacingAndGlyphs">车队管理</text><path d="M336.2 97.6 l0.8 -0.7 l0.8 0.7" fill="none" stroke="#fff" stroke-width="0.35" opacity="0.7"/><text x="299.6" y="113.2" font-size="4" fill="#aeb6be" textLength="17" lengthAdjust="spacingAndGlyphs">车队运营管理</text><text x="299.6" y="127.5" font-size="4" fill="#fff" textLength="11.4" lengthAdjust="spacingAndGlyphs">车队监控</text><rect x="294.90000000000003" y="138.8" width="1.8" height="3.4" rx="0.4" fill="none" stroke="#aeb6be" stroke-width="0.55"/><line x1="294.90000000000003" y1="140.1" x2="296.7" y2="140.1" stroke="#aeb6be" stroke-width="0.4"/><text x="299.5" y="141.95" font-size="4.0" fill="#aeb6be" textLength="11.5" lengthAdjust="spacingAndGlyphs">设备管理</text><path d="M336.2 140.6 l0.8 0.7 l0.8 -0.7" fill="none" stroke="#aeb6be" stroke-width="0.35" opacity="0.7"/><rect x="294.90000000000003" y="152.9" width="1.8" height="3.4" rx="0.4" fill="none" stroke="#aeb6be" stroke-width="0.55"/><line x1="294.90000000000003" y1="154.2" x2="296.7" y2="154.2" stroke="#aeb6be" stroke-width="0.4"/><text x="299.5" y="156.04999999999998" font-size="4.0" fill="#aeb6be" textLength="11.5" lengthAdjust="spacingAndGlyphs">设备台账</text>
</svg>
</section>
<section id="screen-rank-table">
<svg width="600" height="400" viewBox="0 0 600 400">
<rect x="342" y="0" width="258" height="186" fill="#eff1f7"/><rect x="342" y="0" width="1.6" height="186" fill="#fafbfd"/><rect x="348" y="8" width="248" height="177.5" fill="#fff"/><rect x="348" y="8" width="248" height="29.3" fill="#f2f2f2"/><line x1="348" y1="37.30" x2="596" y2="37.30" stroke="#8e8e8e" stroke-width="0.7"/><line x1="348" y1="56.00" x2="596" y2="56.00" stroke="#8e8e8e" stroke-width="0.7"/><line x1="348" y1="74.70" x2="596" y2="74.70" stroke="#8e8e8e" stroke-width="0.7"/><line x1="348" y1="93.40" x2="596" y2="93.40" stroke="#8e8e8e" stroke-width="0.7"/><line x1="348" y1="112.10" x2="596" y2="112.10" stroke="#8e8e8e" stroke-width="0.7"/><line x1="348" y1="130.80" x2="596" y2="130.80" stroke="#8e8e8e" stroke-width="0.7"/><line x1="348" y1="149.50" x2="596" y2="149.50" stroke="#8e8e8e" stroke-width="0.7"/><line x1="348" y1="168.20" x2="596" y2="168.20" stroke="#8e8e8e" stroke-width="0.7"/><line x1="369.5" y1="8" x2="369.5" y2="185.5" stroke="#8e8e8e" stroke-width="0.7"/><line x1="370.8" y1="8" x2="370.8" y2="185.5" stroke="#8e8e8e" stroke-width="0.7"/><line x1="393.4" y1="8" x2="393.4" y2="185.5" stroke="#8e8e8e" stroke-width="0.7"/><line x1="440.6" y1="8" x2="440.6" y2="185.5" stroke="#8e8e8e" stroke-width="0.7"/><line x1="500" y1="8" x2="500" y2="185.5" stroke="#8e8e8e" stroke-width="0.7"/><line x1="551" y1="8" x2="551" y2="185.5" stroke="#8e8e8e" stroke-width="0.7"/><rect x="348.6" y="8.3" width="247.8" height="177.3" fill="none" stroke="#a8a8a8" stroke-width="0.8"/><line x1="348" y1="185.8" x2="597" y2="185.8" stroke="#b5b5b5" stroke-width="1.3"/><text x="354.8" y="24.2" font-size="5.4" fill="#2a2a2a" class="sf" textLength="8.4" lengthAdjust="spacingAndGlyphs">排名</text><text x="377.2" y="24.2" font-size="5.4" fill="#2a2a2a" class="sf" textLength="7.8" lengthAdjust="spacingAndGlyphs">得分</text><text x="413.6" y="24.2" font-size="5.4" fill="#2a2a2a" class="sf" textLength="7" lengthAdjust="spacingAndGlyphs">车队</text><text x="460" y="24.2" font-size="5.4" fill="#2a2a2a" class="sf" textLength="19.4" lengthAdjust="spacingAndGlyphs">里程（km）</text><text x="514" y="24.2" font-size="5.4" fill="#2a2a2a" class="sf" textLength="24" lengthAdjust="spacingAndGlyphs">超标事件排名</text><text x="562.6" y="24.2" font-size="5.4" fill="#2a2a2a" class="sf" textLength="23.4" lengthAdjust="spacingAndGlyphs">驾驶评分排名</text><text x="348.8" y="48.4" font-size="5.4" fill="#333" class="sf" textLength="2.2" lengthAdjust="spacingAndGlyphs">1</text><path d="M364.3 43.20 l2.1 2.7 h-1.1 v3.3 h-2 v-3.3 h-1.1z" fill="#5cc21b"/><text x="410" y="48.5" font-size="5.6" fill="#2a2a2a" class="sf" textLength="13.7" lengthAdjust="spacingAndGlyphs">车队一</text><line x1="410" y1="49.40" x2="423.7" y2="49.40" stroke="#2a2a2a" stroke-width="0.45"/><text x="465.4" y="48.4" font-size="5.6" fill="#333" class="sf" textLength="10.6" lengthAdjust="spacingAndGlyphs">1232</text><text x="525.5" y="48.4" font-size="5.6" fill="#333" class="sf" textLength="2.2" lengthAdjust="spacingAndGlyphs">1</text><text x="573.3" y="48.4" font-size="5.6" fill="#333" class="sf" textLength="2.2" lengthAdjust="spacingAndGlyphs">1</text><text x="348.8" y="67.10000000000001" font-size="5.4" fill="#333" class="sf" textLength="2.2" lengthAdjust="spacingAndGlyphs">2</text><path d="M364.3 66.80 l2 -2.6 h-1.1 v-3.4 h-1.8 v3.4 h-1.1z" fill="#e9392e"/><text x="410" y="67.2" font-size="5.6" fill="#2a2a2a" class="sf" textLength="13.7" lengthAdjust="spacingAndGlyphs">车队二</text><line x1="410" y1="68.10" x2="423.7" y2="68.10" stroke="#2a2a2a" stroke-width="0.45"/><text x="465.4" y="67.10000000000001" font-size="5.6" fill="#333" class="sf" textLength="10.6" lengthAdjust="spacingAndGlyphs">2312</text><text x="525.5" y="67.10000000000001" font-size="5.6" fill="#333" class="sf" textLength="2.2" lengthAdjust="spacingAndGlyphs">2</text><text x="573.3" y="67.10000000000001" font-size="5.6" fill="#333" class="sf" textLength="2.2" lengthAdjust="spacingAndGlyphs">2</text><text x="348.8" y="85.8" font-size="5.4" fill="#333" class="sf" textLength="2.2" lengthAdjust="spacingAndGlyphs">3</text><path d="M364.3 80.60 l2.1 2.7 h-1.1 v3.3 h-2 v-3.3 h-1.1z" fill="#5cc21b"/><text x="410" y="85.89999999999999" font-size="5.6" fill="#2a2a2a" class="sf" textLength="13.7" lengthAdjust="spacingAndGlyphs">车队三</text><line x1="410" y1="86.80" x2="423.7" y2="86.80" stroke="#2a2a2a" stroke-width="0.45"/><text x="465.4" y="85.8" font-size="5.6" fill="#333" class="sf" textLength="10.6" lengthAdjust="spacingAndGlyphs">2556</text><text x="525.5" y="85.8" font-size="5.6" fill="#333" class="sf" textLength="2.2" lengthAdjust="spacingAndGlyphs">3</text><text x="573.3" y="85.8" font-size="5.6" fill="#333" class="sf" textLength="2.2" lengthAdjust="spacingAndGlyphs">3</text><text x="348.8" y="104.5" font-size="5.4" fill="#333" class="sf" textLength="2.2" lengthAdjust="spacingAndGlyphs">5</text><path d="M364.3 99.30 l2.1 2.7 h-1.1 v3.3 h-2 v-3.3 h-1.1z" fill="#5cc21b"/><text x="410" y="104.6" font-size="5.6" fill="#2a2a2a" class="sf" textLength="13.7" lengthAdjust="spacingAndGlyphs">车队四</text><line x1="410" y1="105.50" x2="423.7" y2="105.50" stroke="#2a2a2a" stroke-width="0.45"/><text x="465.4" y="104.5" font-size="5.6" fill="#333" class="sf" textLength="10.6" lengthAdjust="spacingAndGlyphs">2131</text><text x="525.5" y="104.5" font-size="5.6" fill="#333" class="sf" textLength="2.2" lengthAdjust="spacingAndGlyphs">5</text><text x="573.3" y="104.5" font-size="5.6" fill="#333" class="sf" textLength="2.2" lengthAdjust="spacingAndGlyphs">5</text><text x="348.8" y="123.2" font-size="5.4" fill="#333" class="sf" textLength="2.2" lengthAdjust="spacingAndGlyphs">6</text><path d="M364.3 118.00 l2.1 2.7 h-1.1 v3.3 h-2 v-3.3 h-1.1z" fill="#5cc21b"/><text x="410" y="123.3" font-size="5.6" fill="#2a2a2a" class="sf" textLength="13.7" lengthAdjust="spacingAndGlyphs">车队五</text><line x1="410" y1="124.20" x2="423.7" y2="124.20" stroke="#2a2a2a" stroke-width="0.45"/><text x="465.4" y="123.2" font-size="5.6" fill="#333" class="sf" textLength="10.6" lengthAdjust="spacingAndGlyphs">1232</text><text x="525.5" y="123.2" font-size="5.6" fill="#333" class="sf" textLength="2.2" lengthAdjust="spacingAndGlyphs">6</text><text x="573.3" y="123.2" font-size="5.6" fill="#333" class="sf" textLength="2.2" lengthAdjust="spacingAndGlyphs">6</text><text x="348.8" y="141.9" font-size="5.4" fill="#333" class="sf" textLength="2.2" lengthAdjust="spacingAndGlyphs">7</text><path d="M364.3 141.60 l2 -2.6 h-1.1 v-3.4 h-1.8 v3.4 h-1.1z" fill="#e9392e"/><text x="410" y="142.0" font-size="5.6" fill="#2a2a2a" class="sf" textLength="13.7" lengthAdjust="spacingAndGlyphs">车队六</text><line x1="410" y1="142.90" x2="423.7" y2="142.90" stroke="#2a2a2a" stroke-width="0.45"/><text x="465.4" y="141.9" font-size="5.6" fill="#333" class="sf" textLength="10.6" lengthAdjust="spacingAndGlyphs">2312</text><text x="525.5" y="141.9" font-size="5.6" fill="#333" class="sf" textLength="2.2" lengthAdjust="spacingAndGlyphs">7</text><text x="573.3" y="141.9" font-size="5.6" fill="#333" class="sf" textLength="2.2" lengthAdjust="spacingAndGlyphs">7</text><text x="348.8" y="160.6" font-size="5.4" fill="#333" class="sf" textLength="2.2" lengthAdjust="spacingAndGlyphs">8</text><path d="M364.3 155.40 l2.1 2.7 h-1.1 v3.3 h-2 v-3.3 h-1.1z" fill="#5cc21b"/><text x="410" y="160.7" font-size="5.6" fill="#2a2a2a" class="sf" textLength="13.7" lengthAdjust="spacingAndGlyphs">车队七</text><line x1="410" y1="161.60" x2="423.7" y2="161.60" stroke="#2a2a2a" stroke-width="0.45"/><text x="465.4" y="160.6" font-size="5.6" fill="#333" class="sf" textLength="10.6" lengthAdjust="spacingAndGlyphs">2556</text><text x="525.5" y="160.6" font-size="5.6" fill="#333" class="sf" textLength="2.2" lengthAdjust="spacingAndGlyphs">8</text><text x="573.3" y="160.6" font-size="5.6" fill="#333" class="sf" textLength="2.2" lengthAdjust="spacingAndGlyphs">8</text><text x="348.8" y="179.29999999999998" font-size="5.4" fill="#333" class="sf" textLength="2.2" lengthAdjust="spacingAndGlyphs">9</text><path d="M364.3 174.10 l2.1 2.7 h-1.1 v3.3 h-2 v-3.3 h-1.1z" fill="#5cc21b"/><text x="410" y="179.39999999999998" font-size="5.6" fill="#2a2a2a" class="sf" textLength="13.7" lengthAdjust="spacingAndGlyphs">车队八</text><line x1="410" y1="180.30" x2="423.7" y2="180.30" stroke="#2a2a2a" stroke-width="0.45"/><text x="465.4" y="179.29999999999998" font-size="5.6" fill="#333" class="sf" textLength="10.6" lengthAdjust="spacingAndGlyphs">2131</text><text x="525.5" y="179.29999999999998" font-size="5.6" fill="#333" class="sf" textLength="2.2" lengthAdjust="spacingAndGlyphs">9</text><text x="573.3" y="179.29999999999998" font-size="5.6" fill="#333" class="sf" textLength="2.2" lengthAdjust="spacingAndGlyphs">9</text><rect x="521.6" y="7.2" width="0.8" height="1.6" fill="#3ea0e6"/><rect x="597.1" y="11.7" width="0.8" height="1.6" fill="#3ea0e6"/><rect x="440.20000000000005" y="121.7" width="0.8" height="1.6" fill="#3ea0e6"/><rect x="499.6" y="121.7" width="0.8" height="1.6" fill="#3ea0e6"/><rect x="550.6" y="121.7" width="0.8" height="1.6" fill="#3ea0e6"/><rect x="597.2" y="121.7" width="0.8" height="1.6" fill="#3ea0e6"/><circle cx="422.2" cy="125.4" r="1.3" fill="#fff" stroke="#555" stroke-width="0.4"/>
</svg>
</section>
<section id="screen-behavior-grid">
<svg width="600" height="400" viewBox="0 0 600 400">
<rect x="5.5" y="196.9" width="52.25" height="193.7" fill="#001529"/><rect x="5.5" y="259" width="52.25" height="29" fill="#000c17"/><rect x="10.5" y="236.8" width="1.8" height="3.4" rx="0.4" fill="none" stroke="#aeb6be" stroke-width="0.55"/><line x1="10.5" y1="238.1" x2="12.3" y2="238.1" stroke="#aeb6be" stroke-width="0.4"/><text x="15" y="240.0" font-size="4.1" fill="#aeb6be" textLength="11.8" lengthAdjust="spacingAndGlyphs">设备台账</text><rect x="10.5" y="250.8" width="1.8" height="3.4" rx="0.4" fill="none" stroke="#aeb6be" stroke-width="0.55"/><line x1="10.5" y1="252.1" x2="12.3" y2="252.1" stroke="#aeb6be" stroke-width="0.4"/><text x="15" y="254.0" font-size="4.1" fill="#aeb6be" textLength="11.8" lengthAdjust="spacingAndGlyphs">车队管理</text><path d="M52.2 252.6 l0.8 0.7 l0.8 -0.7" fill="none" stroke="#aeb6be" stroke-width="0.35" opacity="0.7"/><text x="15.8" y="268" font-size="4.1" fill="#aeb6be" textLength="11" lengthAdjust="spacingAndGlyphs">车队运营</text><text x="15.8" y="282.2" font-size="4.1" fill="#aeb6be" textLength="16" lengthAdjust="spacingAndGlyphs">车队车辆管理</text><rect x="10.5" y="293.8" width="1.8" height="3.4" rx="0.4" fill="none" stroke="#fff" stroke-width="0.55"/><line x1="10.5" y1="295.1" x2="12.3" y2="295.1" stroke="#fff" stroke-width="0.4"/><text x="15" y="297.0" font-size="4.1" fill="#fff" textLength="11.8" lengthAdjust="spacingAndGlyphs">驾驶行为</text><path d="M52.2 295.6 l0.8 0.7 l0.8 -0.7" fill="none" stroke="#fff" stroke-width="0.35" opacity="0.7"/><rect x="10.5" y="307.90000000000003" width="1.8" height="3.4" rx="0.4" fill="none" stroke="#aeb6be" stroke-width="0.55"/><line x1="10.5" y1="309.20000000000005" x2="12.3" y2="309.20000000000005" stroke="#aeb6be" stroke-width="0.4"/><text x="15" y="311.1" font-size="4.1" fill="#aeb6be" textLength="11.8" lengthAdjust="spacingAndGlyphs">报表中心</text><rect x="10.5" y="322.3" width="1.8" height="3.4" rx="0.4" fill="none" stroke="#aeb6be" stroke-width="0.55"/><line x1="10.5" y1="323.6" x2="12.3" y2="323.6" stroke="#aeb6be" stroke-width="0.4"/><text x="15" y="325.5" font-size="4.1" fill="#aeb6be" textLength="11.8" lengthAdjust="spacingAndGlyphs">告警管理</text><path d="M52.2 324.1 l0.8 0.7 l0.8 -0.7" fill="none" stroke="#aeb6be" stroke-width="0.35" opacity="0.7"/><rect x="10.5" y="336.5" width="1.8" height="3.4" rx="0.4" fill="none" stroke="#aeb6be" stroke-width="0.55"/><line x1="10.5" y1="337.8" x2="12.3" y2="337.8" stroke="#aeb6be" stroke-width="0.4"/><text x="15" y="339.7" font-size="4.1" fill="#aeb6be" textLength="11.8" lengthAdjust="spacingAndGlyphs">系统管理</text><path d="M52.2 338.3 l0.8 0.7 l0.8 -0.7" fill="none" stroke="#aeb6be" stroke-width="0.35" opacity="0.7"/><rect x="10.5" y="350.7" width="1.8" height="3.4" rx="0.4" fill="none" stroke="#aeb6be" stroke-width="0.55"/><line x1="10.5" y1="352.0" x2="12.3" y2="352.0" stroke="#aeb6be" stroke-width="0.4"/><text x="15" y="353.9" font-size="4.1" fill="#aeb6be" textLength="11.8" lengthAdjust="spacingAndGlyphs">运维管理</text><path d="M52.2 352.5 l0.8 0.7 l0.8 -0.7" fill="none" stroke="#aeb6be" stroke-width="0.35" opacity="0.7"/><rect x="10.5" y="364.90000000000003" width="1.8" height="3.4" rx="0.4" fill="none" stroke="#aeb6be" stroke-width="0.55"/><line x1="10.5" y1="366.20000000000005" x2="12.3" y2="366.20000000000005" stroke="#aeb6be" stroke-width="0.4"/><text x="15" y="368.1" font-size="4.1" fill="#aeb6be" textLength="11.8" lengthAdjust="spacingAndGlyphs">视频回放</text><rect x="10.5" y="379.3" width="1.8" height="3.4" rx="0.4" fill="none" stroke="#aeb6be" stroke-width="0.55"/><line x1="10.5" y1="380.6" x2="12.3" y2="380.6" stroke="#aeb6be" stroke-width="0.4"/><text x="15" y="382.5" font-size="4.1" fill="#aeb6be" textLength="11.8" lengthAdjust="spacingAndGlyphs">关于我们</text><rect x="57.75" y="197" width="3.3" height="166" fill="#f5f6f8"/><line x1="64.3" y1="197" x2="64.3" y2="390" stroke="#e2e2e2" stroke-width="0.6"/><path d="M66.8 197 V223 M309 197 V223" stroke="#dcdcdc" stroke-width="1.2" fill="none"/><text x="75" y="207.4" font-size="4.8" fill="#333" textLength="23" lengthAdjust="spacingAndGlyphs">驾驶行为分析</text><line x1="254" y1="202.6" x2="260.5" y2="202.6" stroke="#e9a27c" stroke-width="0.5"/><line x1="285" y1="203" x2="294.5" y2="203" stroke="#b5603a" stroke-width="0.7" stroke-dasharray="1.2 0.6"/><text x="270.2" y="202.4" font-size="2.4" fill="#777" textLength="4" lengthAdjust="spacingAndGlyphs">100</text><text x="251" y="211.6" font-size="4.2" fill="#333" textLength="14" lengthAdjust="spacingAndGlyphs">我的车队</text><text x="281.6" y="211.6" font-size="4.2" fill="#333" textLength="12.4" lengthAdjust="spacingAndGlyphs">同行车队</text><rect x="66.7" y="223" width="242.3" height="17.4" fill="#f0f0f0" stroke="#cdcdcd" stroke-width="0.6"/><text x="71.6" y="234.9" font-size="5.2" fill="#2c2c2c" textLength="14.8" lengthAdjust="spacingAndGlyphs">数据分析</text><rect x="269" y="227" width="35.4" height="11" rx="0.9" fill="#fff" stroke="#cfcfcf" stroke-width="0.5"/><text x="281.4" y="234.1" font-size="4.3" fill="#333" textLength="12" lengthAdjust="spacingAndGlyphs">时间选择</text><line x1="302" y1="209.6" x2="309.5" y2="209.6" stroke="#5db3dc" stroke-width="0.6"/><line x1="304" y1="232" x2="309.5" y2="232" stroke="#5db3dc" stroke-width="0.6"/><rect x="66.7" y="246" width="242.3" height="118.4" fill="#fff" stroke="#cdcdcd" stroke-width="0.6"/><rect x="115.4" y="249.5" width="48.1" height="32" fill="#ff8080"/><rect x="260" y="281.5" width="48.4" height="33.1" fill="#ff8080"/><line x1="67.5" y1="249.5" x2="67.5" y2="314.6" stroke="#c4c4c4" stroke-width="0.5"/><line x1="115.4" y1="249.5" x2="115.4" y2="314.6" stroke="#c4c4c4" stroke-width="0.5"/><line x1="163.5" y1="249.5" x2="163.5" y2="314.6" stroke="#c4c4c4" stroke-width="0.5"/><line x1="211.5" y1="249.5" x2="211.5" y2="314.6" stroke="#c4c4c4" stroke-width="0.5"/><line x1="260" y1="249.5" x2="260" y2="314.6" stroke="#c4c4c4" stroke-width="0.5"/><line x1="308.4" y1="249.5" x2="308.4" y2="314.6" stroke="#c4c4c4" stroke-width="0.5"/><line x1="67.5" y1="249.5" x2="308.4" y2="249.5" stroke="#c4c4c4" stroke-width="0.5"/><line x1="67.5" y1="281.5" x2="308.4" y2="281.5" stroke="#c4c4c4" stroke-width="0.5"/><line x1="67.5" y1="314.6" x2="308.4" y2="314.6" stroke="#c4c4c4" stroke-width="0.5"/><text x="67.5" y="268.9" font-size="3.1" fill="#444" textLength="6.51" lengthAdjust="spacingAndGlyphs">超速：</text><text x="74.81" y="271.09999999999997" font-size="6.8" fill="#222" font-weight="bold" textLength="2.17" lengthAdjust="spacingAndGlyphs">3</text><text x="76.98" y="268.7" font-size="2.8" fill="#444" textLength="2.4" lengthAdjust="spacingAndGlyphs">次</text><text x="115.4" y="268.9" font-size="3.1" fill="#444" textLength="10.85" lengthAdjust="spacingAndGlyphs">疲劳驾驶：</text><text x="127.05" y="271.09999999999997" font-size="6.8" fill="#222" font-weight="bold" textLength="2.17" lengthAdjust="spacingAndGlyphs">8</text><text x="129.22" y="268.7" font-size="2.8" fill="#444" textLength="2.4" lengthAdjust="spacingAndGlyphs">次</text><text x="163.5" y="268.9" font-size="3.1" fill="#444" textLength="6.51" lengthAdjust="spacingAndGlyphs">急刹：</text><text x="170.81" y="271.09999999999997" font-size="6.8" fill="#222" font-weight="bold" textLength="2.17" lengthAdjust="spacingAndGlyphs">3</text><text x="172.98" y="268.7" font-size="2.8" fill="#444" textLength="2.4" lengthAdjust="spacingAndGlyphs">次</text><text x="211.5" y="268.9" font-size="3.1" fill="#444" textLength="8.68" lengthAdjust="spacingAndGlyphs">急加速：</text><text x="220.98000000000002" y="271.09999999999997" font-size="6.8" fill="#222" font-weight="bold" textLength="2.17" lengthAdjust="spacingAndGlyphs">3</text><text x="223.15" y="268.7" font-size="2.8" fill="#444" textLength="2.4" lengthAdjust="spacingAndGlyphs">次</text><text x="260" y="268.9" font-size="3.1" fill="#444" textLength="8.68" lengthAdjust="spacingAndGlyphs">急转弯：</text><text x="269.48" y="271.09999999999997" font-size="6.8" fill="#222" font-weight="bold" textLength="2.17" lengthAdjust="spacingAndGlyphs">3</text><text x="271.65000000000003" y="268.7" font-size="2.8" fill="#444" textLength="2.4" lengthAdjust="spacingAndGlyphs">次</text><text x="68.1" y="301.4" font-size="3.1" fill="#888" textLength="6.51" lengthAdjust="spacingAndGlyphs">抽烟：</text><text x="75.41" y="303.59999999999997" font-size="6.8" fill="#222" font-weight="bold" textLength="2.17" lengthAdjust="spacingAndGlyphs">3</text><text x="77.58" y="301.2" font-size="2.8" fill="#444" textLength="2.4" lengthAdjust="spacingAndGlyphs">次</text><text x="116.0" y="301.4" font-size="3.1" fill="#888" textLength="8.68" lengthAdjust="spacingAndGlyphs">打电话：</text><text x="125.48" y="303.59999999999997" font-size="6.8" fill="#222" font-weight="bold" textLength="6.51" lengthAdjust="spacingAndGlyphs">523</text><text x="131.99" y="301.2" font-size="2.8" fill="#444" textLength="2.4" lengthAdjust="spacingAndGlyphs">次</text><text x="164.1" y="301.4" font-size="3.1" fill="#888" textLength="6.51" lengthAdjust="spacingAndGlyphs">分神：</text><text x="171.41" y="303.59999999999997" font-size="6.8" fill="#222" font-weight="bold" textLength="4.34" lengthAdjust="spacingAndGlyphs">23</text><text x="175.75" y="301.2" font-size="2.8" fill="#444" textLength="2.4" lengthAdjust="spacingAndGlyphs">次</text><text x="212.1" y="301.4" font-size="3.1" fill="#888" textLength="10.85" lengthAdjust="spacingAndGlyphs">车道偏离：</text><text x="223.75" y="303.59999999999997" font-size="6.8" fill="#222" font-weight="bold" textLength="4.34" lengthAdjust="spacingAndGlyphs">23</text><text x="228.09" y="301.2" font-size="2.8" fill="#444" textLength="2.4" lengthAdjust="spacingAndGlyphs">次</text><text x="231.49" y="301.79999999999995" font-size="2.8" fill="#888" textLength="11.399999999999999" lengthAdjust="spacingAndGlyphs">（同行均值）</text><text x="260.6" y="301.4" font-size="3.1" fill="#444" textLength="15.19" lengthAdjust="spacingAndGlyphs">前车碰撞预警：</text><text x="276.59000000000003" y="303.59999999999997" font-size="6.8" fill="#222" font-weight="bold" textLength="2.17" lengthAdjust="spacingAndGlyphs">8</text><text x="278.76000000000005" y="301.2" font-size="2.8" fill="#444" textLength="2.4" lengthAdjust="spacingAndGlyphs">次</text><text x="71" y="327.8" font-size="3.7" fill="#555" textLength="14" lengthAdjust="spacingAndGlyphs">驾驶行为评分</text><text x="71.4" y="339.7" font-size="3.1" fill="#666" textLength="10.6" lengthAdjust="spacingAndGlyphs">综合评分：</text><text x="88" y="342.9" font-size="13.6" fill="#111" font-weight="bold" textLength="5.6" lengthAdjust="spacingAndGlyphs">9</text><text x="94" y="337" font-size="2.6" fill="#555" textLength="2.4" lengthAdjust="spacingAndGlyphs">分</text><text x="85" y="337" font-size="2.6" fill="#555" textLength="2" lengthAdjust="spacingAndGlyphs">第</text><text x="277.6" y="327" font-size="4" fill="#444" textLength="4.8" lengthAdjust="spacingAndGlyphs">里程</text><text x="285.4" y="329" font-size="7.4" fill="#222" font-weight="bold" textLength="8.6" lengthAdjust="spacingAndGlyphs">3243</text><text x="294.1" y="326.4" font-size="3.2" fill="#444" textLength="3.5" lengthAdjust="spacingAndGlyphs">km</text><rect x="66.7" y="349.5" width="242.3" height="15" fill="#f0f0f0" stroke="#cdcdcd" stroke-width="0.6"/><text x="70" y="359.6" font-size="4.4" fill="#333" textLength="11.6" lengthAdjust="spacingAndGlyphs">说明—</text><text x="217" y="359.2" font-size="4.2" fill="#333" textLength="6.6" lengthAdjust="spacingAndGlyphs">搜索</text><rect x="228" y="353" width="15" height="9.4" rx="0.7" fill="#fff" stroke="#c8c8c8" stroke-width="0.5"/><text x="230" y="359.5" font-size="4" fill="#444" textLength="7" lengthAdjust="spacingAndGlyphs">车队</text><path d="M239.7 357.6 l0.9 -1.2 l0.9 1.2z" fill="#333"/><rect x="245.6" y="353" width="44.4" height="9.4" rx="0.7" fill="#fff" stroke="#c8c8c8" stroke-width="0.5"/><text x="248" y="359.1" font-size="3.6" fill="#aaa" textLength="37.6" lengthAdjust="spacingAndGlyphs">请输入车牌号（支持模糊查询）</text><rect x="294.4" y="353" width="11.2" height="9.4" rx="0.7" fill="#fff" stroke="#c8c8c8" stroke-width="0.5"/><text x="297.4" y="359.3" font-size="3.8" fill="#333" textLength="5.2" lengthAdjust="spacingAndGlyphs">查询</text><line x1="309.6" y1="197" x2="309.6" y2="364.5" stroke="#d4d4d4" stroke-width="0.7"/><text x="67.4" y="386.1" font-size="3.5" fill="#c4c4c4" textLength="10.6" lengthAdjust="spacingAndGlyphs">车队管理</text><text x="79.6" y="386" font-size="3.4" fill="#c4c4c4">›</text><text x="83" y="386.1" font-size="3.5" fill="#7a7a7a" textLength="10" lengthAdjust="spacingAndGlyphs">车队监控</text><rect x="66" y="389.6" width="190" height="0.6" fill="#f4f4f4"/><rect x="311.5" y="195" width="49.1" height="197.4" fill="#001529"/><rect x="311.5" y="300.4" width="49.1" height="28.8" fill="#000c17"/><rect x="316.5" y="205.10000000000002" width="1.8" height="3.4" rx="0.4" fill="none" stroke="#aeb6be" stroke-width="0.55"/><line x1="316.5" y1="206.4" x2="318.29999999999995" y2="206.4" stroke="#aeb6be" stroke-width="0.4"/><text x="321" y="208.3" font-size="4.1" fill="#aeb6be" textLength="10.4" lengthAdjust="spacingAndGlyphs">地图监控</text><rect x="316.5" y="219.60000000000002" width="1.8" height="3.4" rx="0.4" fill="none" stroke="#aeb6be" stroke-width="0.55"/><line x1="316.5" y1="220.9" x2="318.29999999999995" y2="220.9" stroke="#aeb6be" stroke-width="0.4"/><text x="321" y="222.8" font-size="4.1" fill="#aeb6be" textLength="10.4" lengthAdjust="spacingAndGlyphs">电子围栏</text><rect x="316.5" y="233.9" width="1.8" height="3.4" rx="0.4" fill="none" stroke="#aeb6be" stroke-width="0.55"/><line x1="316.5" y1="235.2" x2="318.29999999999995" y2="235.2" stroke="#aeb6be" stroke-width="0.4"/><text x="321" y="237.1" font-size="4.1" fill="#aeb6be" textLength="10.4" lengthAdjust="spacingAndGlyphs">权限管理</text><path d="M355.2 235.7 l0.8 0.7 l0.8 -0.7" fill="none" stroke="#aeb6be" stroke-width="0.35" opacity="0.7"/><rect x="316.5" y="248.3" width="1.8" height="3.4" rx="0.4" fill="none" stroke="#aeb6be" stroke-width="0.55"/><line x1="316.5" y1="249.6" x2="318.29999999999995" y2="249.6" stroke="#aeb6be" stroke-width="0.4"/><text x="321" y="251.5" font-size="4.1" fill="#aeb6be" textLength="10.4" lengthAdjust="spacingAndGlyphs">账号管理</text><path d="M355.2 250.1 l0.8 0.7 l0.8 -0.7" fill="none" stroke="#aeb6be" stroke-width="0.35" opacity="0.7"/><rect x="316.5" y="262.7" width="1.8" height="3.4" rx="0.4" fill="none" stroke="#aeb6be" stroke-width="0.55"/><line x1="316.5" y1="264.0" x2="318.29999999999995" y2="264.0" stroke="#aeb6be" stroke-width="0.4"/><text x="321" y="265.9" font-size="4.1" fill="#aeb6be" textLength="10.4" lengthAdjust="spacingAndGlyphs">客户管理</text><path d="M355.2 264.5 l0.8 0.7 l0.8 -0.7" fill="none" stroke="#aeb6be" stroke-width="0.35" opacity="0.7"/><rect x="316.5" y="277.1" width="1.8" height="3.4" rx="0.4" fill="none" stroke="#aeb6be" stroke-width="0.55"/><line x1="316.5" y1="278.40000000000003" x2="318.29999999999995" y2="278.40000000000003" stroke="#aeb6be" stroke-width="0.4"/><text x="321" y="280.3" font-size="4.1" fill="#aeb6be" textLength="10.4" lengthAdjust="spacingAndGlyphs">企业账号</text><rect x="316.5" y="291.8" width="1.8" height="3.4" rx="0.4" fill="none" stroke="#fff" stroke-width="0.55"/><line x1="316.5" y1="293.1" x2="318.29999999999995" y2="293.1" stroke="#fff" stroke-width="0.4"/><text x="321" y="295.0" font-size="4.1" fill="#fff" textLength="10.4" lengthAdjust="spacingAndGlyphs">车队管理</text><path d="M355.2 294.1 l0.8 -0.7 l0.8 0.7" fill="none" stroke="#fff" stroke-width="0.35" opacity="0.7"/><text x="323.6" y="309" font-size="4" fill="#aeb6be" textLength="14.5" lengthAdjust="spacingAndGlyphs">车队运营管理</text><text x="323.6" y="323.2" font-size="4" fill="#aeb6be" textLength="9.8" lengthAdjust="spacingAndGlyphs">车队监控</text><rect x="316.5" y="334.90000000000003" width="1.8" height="3.4" rx="0.4" fill="none" stroke="#aeb6be" stroke-width="0.55"/><line x1="316.5" y1="336.20000000000005" x2="318.29999999999995" y2="336.20000000000005" stroke="#aeb6be" stroke-width="0.4"/><text x="321" y="338.1" font-size="4.1" fill="#aeb6be" textLength="10.4" lengthAdjust="spacingAndGlyphs">设备管理</text><path d="M355.2 336.70000000000005 l0.8 0.7 l0.8 -0.7" fill="none" stroke="#aeb6be" stroke-width="0.35" opacity="0.7"/><rect x="316.5" y="349.3" width="1.8" height="3.4" rx="0.4" fill="none" stroke="#aeb6be" stroke-width="0.55"/><line x1="316.5" y1="350.6" x2="318.29999999999995" y2="350.6" stroke="#aeb6be" stroke-width="0.4"/><text x="321" y="352.5" font-size="4.1" fill="#aeb6be" textLength="10.4" lengthAdjust="spacingAndGlyphs">设备台账</text>
</svg>
</section>
<section id="screen-alarm-trend">
<svg width="600" height="400" viewBox="0 0 600 400">
<rect x="596.6" y="195" width="3.4" height="197.4" fill="#f0f2f5"/><line x1="360.7" y1="230" x2="360.7" y2="392" stroke="#d0d0d0" stroke-width="0.6"/><text x="369.4" y="203.2" font-size="4.2" fill="#3a3a3a" textLength="18" lengthAdjust="spacingAndGlyphs">驾驶行为分析</text><line x1="363" y1="210.5" x2="597" y2="210.5" stroke="#e9e9e9" stroke-width="0.5"/><text x="372.4" y="225.3" font-size="3.8" fill="#1890ff" textLength="16.6" lengthAdjust="spacingAndGlyphs">超标事件走势</text><line x1="363" y1="230.2" x2="597" y2="230.2" stroke="#ebebeb" stroke-width="0.5"/><line x1="369.4" y1="229.7" x2="392" y2="229.7" stroke="#2b95f5" stroke-width="0.9"/><text x="370.4" y="242.2" font-size="4.9" fill="#1a1a1a" font-weight="bold" textLength="17" lengthAdjust="spacingAndGlyphs">告警数趋势</text><text x="376" y="248.7" font-size="3.6" fill="#444" textLength="11.4" lengthAdjust="spacingAndGlyphs">告警次数</text><line x1="381.4" y1="392.00" x2="588" y2="392.00" stroke="#e4e4e4" stroke-width="0.45"/><line x1="380.2" y1="392.00" x2="381.4" y2="392.00" stroke="#555" stroke-width="0.3"/><text x="379.6" y="392.9" font-size="2.6" fill="#444" text-anchor="end" textLength="1.4" lengthAdjust="spacingAndGlyphs">0</text><line x1="381.4" y1="368.90" x2="588" y2="368.90" stroke="#e4e4e4" stroke-width="0.45"/><line x1="380.2" y1="368.90" x2="381.4" y2="368.90" stroke="#555" stroke-width="0.3"/><text x="379.6" y="369.79999999999995" font-size="2.6" fill="#444" text-anchor="end" textLength="2.8" lengthAdjust="spacingAndGlyphs">10</text><line x1="381.4" y1="345.80" x2="588" y2="345.80" stroke="#e4e4e4" stroke-width="0.45"/><line x1="380.2" y1="345.80" x2="381.4" y2="345.80" stroke="#555" stroke-width="0.3"/><text x="379.6" y="346.7" font-size="2.6" fill="#444" text-anchor="end" textLength="2.8" lengthAdjust="spacingAndGlyphs">20</text><line x1="381.4" y1="322.70" x2="588" y2="322.70" stroke="#e4e4e4" stroke-width="0.45"/><line x1="380.2" y1="322.70" x2="381.4" y2="322.70" stroke="#555" stroke-width="0.3"/><text x="379.6" y="323.59999999999997" font-size="2.6" fill="#444" text-anchor="end" textLength="2.8" lengthAdjust="spacingAndGlyphs">30</text><line x1="381.4" y1="299.60" x2="588" y2="299.60" stroke="#e4e4e4" stroke-width="0.45"/><line x1="380.2" y1="299.60" x2="381.4" y2="299.60" stroke="#555" stroke-width="0.3"/><text x="379.6" y="300.5" font-size="2.6" fill="#444" text-anchor="end" textLength="2.8" lengthAdjust="spacingAndGlyphs">40</text><line x1="381.4" y1="276.50" x2="588" y2="276.50" stroke="#e4e4e4" stroke-width="0.45"/><line x1="380.2" y1="276.50" x2="381.4" y2="276.50" stroke="#555" stroke-width="0.3"/><text x="379.6" y="277.4" font-size="2.6" fill="#444" text-anchor="end" textLength="2.8" lengthAdjust="spacingAndGlyphs">50</text><line x1="381.4" y1="253.40" x2="588" y2="253.40" stroke="#e4e4e4" stroke-width="0.45"/><line x1="380.2" y1="253.40" x2="381.4" y2="253.40" stroke="#555" stroke-width="0.3"/><text x="379.6" y="254.3" font-size="2.6" fill="#444" text-anchor="end" textLength="2.8" lengthAdjust="spacingAndGlyphs">60</text><line x1="381.4" y1="253.4" x2="381.4" y2="392" stroke="#666" stroke-width="0.45"/><line x1="381.4" y1="392" x2="588" y2="392" stroke="#888" stroke-width="0.4"/><line x1="410.7" y1="253.4" x2="410.7" y2="392" stroke="#c4c4c4" stroke-width="0.45"/><polyline fill="none" stroke="#61a0a8" stroke-width="0.6" stroke-linejoin="round" points="381.4,351 410.9,335.6 440.4,265.6 469.9,332.4 499.4,347 529.0,306 558.5,278.6 588.0,369.6"/><polyline fill="none" stroke="#2f4554" stroke-width="0.7" stroke-linejoin="round" points="381.4,370.6 410.9,375.6 440.4,382 469.9,379.6 499.4,377 529.0,382.4 558.5,364.4 588.0,381.4"/><polyline fill="none" stroke="#d48265" stroke-width="0.6" stroke-linejoin="round" points="381.4,391.9 410.9,391.2 440.4,391.8 469.9,391.6 499.4,391.8 529.0,391.5 558.5,391.4 588.0,391.8"/><polyline fill="none" stroke="#c23531" stroke-width="0.6" stroke-linejoin="round" points="381.4,391.8 410.9,390.4 440.4,391.5 469.9,391.7 499.4,391.4 529.0,391.7 558.5,390.8 588.0,391.6"/><line x1="433.4" y1="238.9" x2="437.6" y2="238.9" stroke="#c23531" stroke-width="0.3"/><path d="M435.5 237.1 l1.4 1.8 l-1.4 1.8 l-1.4 -1.8z" fill="#fff" stroke="#c23531" stroke-width="0.4"/><text x="439.4" y="240.1" font-size="3" fill="#333" textLength="15" lengthAdjust="spacingAndGlyphs">FCW 前车碰撞</text><line x1="457.09999999999997" y1="238.9" x2="461.3" y2="238.9" stroke="#2f4554" stroke-width="0.3"/><path d="M459.2 237.1 l1.4 1.8 l-1.4 1.8 l-1.4 -1.8z" fill="#fff" stroke="#2f4554" stroke-width="0.4"/><text x="462.4" y="240.1" font-size="3" fill="#333" textLength="17.2" lengthAdjust="spacingAndGlyphs">HMW 车距过近</text><line x1="481.5" y1="238.9" x2="485.70000000000005" y2="238.9" stroke="#61a0a8" stroke-width="0.3"/><path d="M483.6 237.1 l1.4 1.8 l-1.4 1.8 l-1.4 -1.8z" fill="#fff" stroke="#61a0a8" stroke-width="0.4"/><text x="487.6" y="240.1" font-size="3" fill="#333" textLength="15.4" lengthAdjust="spacingAndGlyphs">LDW 车道偏离</text><line x1="505.5" y1="238.9" x2="509.70000000000005" y2="238.9" stroke="#d48265" stroke-width="0.3"/><path d="M507.6 237.1 l1.4 1.8 l-1.4 1.8 l-1.4 -1.8z" fill="#fff" stroke="#d48265" stroke-width="0.4"/><text x="511" y="240.1" font-size="3" fill="#333" textLength="22" lengthAdjust="spacingAndGlyphs">UFCW 城市前车碰撞</text><rect x="414.4" y="288.4" width="37" height="34" rx="0.8" fill="#6b6b6b" opacity="0.96"/><text x="415.6" y="294.7" font-size="3.1" fill="#fff" textLength="14.8" lengthAdjust="spacingAndGlyphs">2019-06-02</text><circle cx="416.5" cy="299.80" r="0.9" fill="#c23531"/><text x="418.4" y="300.9" font-size="3.1" fill="#fff" textLength="24.6" lengthAdjust="spacingAndGlyphs">FCW 前车碰撞: 0.90</text><circle cx="416.5" cy="305.95" r="0.9" fill="#2f4554"/><text x="418.4" y="307.04999999999995" font-size="3.1" fill="#fff" textLength="27.6" lengthAdjust="spacingAndGlyphs">HMW 车距过近: 7.28</text><circle cx="416.5" cy="312.10" r="0.9" fill="#61a0a8"/><text x="418.4" y="313.2" font-size="3.1" fill="#fff" textLength="27" lengthAdjust="spacingAndGlyphs">LDW 车道偏离: 24.86</text><circle cx="416.5" cy="318.25" r="0.9" fill="#d48265"/><text x="418.4" y="319.34999999999997" font-size="3.1" fill="#fff" textLength="31.5" lengthAdjust="spacingAndGlyphs">UFCW 城市前车碰撞: 1.35</text>
</svg>
</section>
</body>
</html>
